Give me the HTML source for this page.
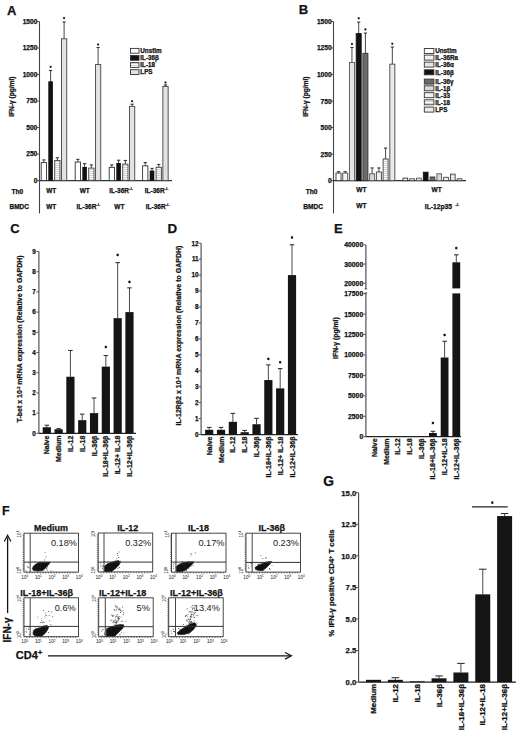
<!DOCTYPE html>
<html><head><meta charset="utf-8"><style>
html,body{margin:0;padding:0;background:#fff;}
svg{display:block;}
text{font-family:"Liberation Sans", sans-serif;}
</style></head><body>
<svg width="520" height="734" viewBox="0 0 520 734">
<defs><pattern id="hs" width="4" height="2" patternUnits="userSpaceOnUse"><rect width="4" height="2" fill="#fbfbfb"/><rect y="1.2" width="4" height="0.8" fill="#c8c8c8"/></pattern></defs>
<rect x="0" y="0" width="520" height="734" fill="#fff"/>
<text x="7.00" y="14.50" font-size="13" text-anchor="start" font-weight="bold" fill="#111" stroke="#111" stroke-width="0.25">A</text>
<line x1="39.50" y1="21.50" x2="39.50" y2="213.50" stroke="#444" stroke-width="1.1"/>
<line x1="39.50" y1="180.60" x2="172.00" y2="180.60" stroke="#333" stroke-width="1.2"/>
<line x1="37.00" y1="180.60" x2="39.50" y2="180.60" stroke="#444" stroke-width="0.9"/>
<text x="37.30" y="183.00" font-size="6.6" text-anchor="end" font-weight="bold" fill="#111" stroke="#111" stroke-width="0.25">0</text>
<line x1="37.00" y1="154.08" x2="39.50" y2="154.08" stroke="#444" stroke-width="0.9"/>
<text x="37.30" y="156.48" font-size="6.6" text-anchor="end" font-weight="bold" fill="#111" stroke="#111" stroke-width="0.25">250</text>
<line x1="37.00" y1="127.57" x2="39.50" y2="127.57" stroke="#444" stroke-width="0.9"/>
<text x="37.30" y="129.97" font-size="6.6" text-anchor="end" font-weight="bold" fill="#111" stroke="#111" stroke-width="0.25">500</text>
<line x1="37.00" y1="101.05" x2="39.50" y2="101.05" stroke="#444" stroke-width="0.9"/>
<text x="37.30" y="103.45" font-size="6.6" text-anchor="end" font-weight="bold" fill="#111" stroke="#111" stroke-width="0.25">750</text>
<line x1="37.00" y1="74.53" x2="39.50" y2="74.53" stroke="#444" stroke-width="0.9"/>
<text x="37.30" y="76.93" font-size="6.6" text-anchor="end" font-weight="bold" fill="#111" stroke="#111" stroke-width="0.25">1000</text>
<line x1="37.00" y1="48.02" x2="39.50" y2="48.02" stroke="#444" stroke-width="0.9"/>
<text x="37.30" y="50.42" font-size="6.6" text-anchor="end" font-weight="bold" fill="#111" stroke="#111" stroke-width="0.25">1250</text>
<line x1="37.00" y1="21.50" x2="39.50" y2="21.50" stroke="#444" stroke-width="0.9"/>
<text x="37.30" y="23.90" font-size="6.6" text-anchor="end" font-weight="bold" fill="#111" stroke="#111" stroke-width="0.25">1500</text>
<text x="13.60" y="96.70" font-size="6.6" text-anchor="middle" font-weight="bold" fill="#111" stroke="#111" stroke-width="0.25" transform="rotate(-90 13.60 96.70)">IFN-&#947; (pg/ml)</text>
<line x1="43.85" y1="162.57" x2="43.85" y2="159.92" stroke="#333" stroke-width="0.9"/>
<line x1="42.25" y1="159.92" x2="45.45" y2="159.92" stroke="#333" stroke-width="1.1"/>
<rect x="41.20" y="162.57" width="5.30" height="18.03" fill="#fff" stroke="#333" stroke-width="0.9"/>
<line x1="50.60" y1="81.75" x2="50.60" y2="70.50" stroke="#333" stroke-width="0.9"/>
<line x1="49.00" y1="70.50" x2="52.20" y2="70.50" stroke="#333" stroke-width="1.1"/>
<rect x="48.30" y="81.30" width="4.60" height="99.30" fill="#111"/>
<path d="M50.60 65.64L50.60 67.95M49.60 66.22L51.60 67.38M49.60 67.38L51.60 66.22" stroke="#111" stroke-width="0.66" fill="none"/>
<circle cx="50.60" cy="66.80" r="0.82" fill="#111"/>
<line x1="57.35" y1="160.45" x2="57.35" y2="157.80" stroke="#333" stroke-width="0.9"/>
<line x1="55.75" y1="157.80" x2="58.95" y2="157.80" stroke="#333" stroke-width="1.1"/>
<rect x="54.70" y="160.45" width="5.30" height="20.15" fill="url(#hs)" stroke="#444" stroke-width="0.9"/>
<line x1="64.10" y1="38.79" x2="64.10" y2="22.03" stroke="#333" stroke-width="0.9"/>
<line x1="62.50" y1="22.03" x2="65.70" y2="22.03" stroke="#333" stroke-width="1.1"/>
<rect x="61.45" y="38.79" width="5.30" height="141.81" fill="#e2e2e2" stroke="#444" stroke-width="0.9"/>
<path d="M64.10 16.84L64.10 19.16M63.10 17.42L65.10 18.58M63.10 18.58L65.10 17.42" stroke="#111" stroke-width="0.66" fill="none"/>
<circle cx="64.10" cy="18.00" r="0.82" fill="#111"/>
<line x1="77.85" y1="162.04" x2="77.85" y2="159.39" stroke="#333" stroke-width="0.9"/>
<line x1="76.25" y1="159.39" x2="79.45" y2="159.39" stroke="#333" stroke-width="1.1"/>
<rect x="75.20" y="162.04" width="5.30" height="18.56" fill="#fff" stroke="#333" stroke-width="0.9"/>
<line x1="84.60" y1="167.34" x2="84.60" y2="163.63" stroke="#333" stroke-width="0.9"/>
<line x1="83.00" y1="163.63" x2="86.20" y2="163.63" stroke="#333" stroke-width="1.1"/>
<rect x="82.30" y="166.89" width="4.60" height="13.71" fill="#111"/>
<line x1="91.35" y1="168.08" x2="91.35" y2="164.90" stroke="#333" stroke-width="0.9"/>
<line x1="89.75" y1="164.90" x2="92.95" y2="164.90" stroke="#333" stroke-width="1.1"/>
<rect x="88.70" y="168.08" width="5.30" height="12.52" fill="url(#hs)" stroke="#444" stroke-width="0.9"/>
<line x1="98.10" y1="64.56" x2="98.10" y2="47.49" stroke="#333" stroke-width="0.9"/>
<line x1="96.50" y1="47.49" x2="99.70" y2="47.49" stroke="#333" stroke-width="1.1"/>
<rect x="95.45" y="64.56" width="5.30" height="116.04" fill="#e2e2e2" stroke="#444" stroke-width="0.9"/>
<path d="M98.10 43.34L98.10 45.66M97.10 43.92L99.10 45.08M97.10 45.08L99.10 43.92" stroke="#111" stroke-width="0.66" fill="none"/>
<circle cx="98.10" cy="44.50" r="0.82" fill="#111"/>
<line x1="111.85" y1="167.34" x2="111.85" y2="164.90" stroke="#333" stroke-width="0.9"/>
<line x1="110.25" y1="164.90" x2="113.45" y2="164.90" stroke="#333" stroke-width="1.1"/>
<rect x="109.20" y="167.34" width="5.30" height="13.26" fill="#fff" stroke="#333" stroke-width="0.9"/>
<line x1="118.60" y1="163.42" x2="118.60" y2="160.24" stroke="#333" stroke-width="0.9"/>
<line x1="117.00" y1="160.24" x2="120.20" y2="160.24" stroke="#333" stroke-width="1.1"/>
<rect x="116.30" y="162.97" width="4.60" height="17.63" fill="#111"/>
<line x1="125.35" y1="164.16" x2="125.35" y2="160.45" stroke="#333" stroke-width="0.9"/>
<line x1="123.75" y1="160.45" x2="126.95" y2="160.45" stroke="#333" stroke-width="1.1"/>
<rect x="122.70" y="164.16" width="5.30" height="16.44" fill="url(#hs)" stroke="#444" stroke-width="0.9"/>
<line x1="132.10" y1="106.35" x2="132.10" y2="104.23" stroke="#333" stroke-width="0.9"/>
<line x1="130.50" y1="104.23" x2="133.70" y2="104.23" stroke="#333" stroke-width="1.1"/>
<rect x="129.45" y="106.35" width="5.30" height="74.25" fill="#e2e2e2" stroke="#444" stroke-width="0.9"/>
<path d="M132.10 100.05L132.10 102.36M131.10 100.62L133.10 101.78M131.10 101.78L133.10 100.62" stroke="#111" stroke-width="0.66" fill="none"/>
<circle cx="132.10" cy="101.20" r="0.82" fill="#111"/>
<line x1="145.25" y1="165.86" x2="145.25" y2="162.57" stroke="#333" stroke-width="0.9"/>
<line x1="143.65" y1="162.57" x2="146.85" y2="162.57" stroke="#333" stroke-width="1.1"/>
<rect x="142.60" y="165.86" width="5.30" height="14.74" fill="#fff" stroke="#333" stroke-width="0.9"/>
<line x1="152.00" y1="171.05" x2="152.00" y2="168.40" stroke="#333" stroke-width="0.9"/>
<line x1="150.40" y1="168.40" x2="153.60" y2="168.40" stroke="#333" stroke-width="1.1"/>
<rect x="149.70" y="170.60" width="4.60" height="10.00" fill="#111"/>
<line x1="158.75" y1="167.24" x2="158.75" y2="164.48" stroke="#333" stroke-width="0.9"/>
<line x1="157.15" y1="164.48" x2="160.35" y2="164.48" stroke="#333" stroke-width="1.1"/>
<rect x="156.10" y="167.24" width="5.30" height="13.36" fill="url(#hs)" stroke="#444" stroke-width="0.9"/>
<line x1="165.50" y1="86.41" x2="165.50" y2="84.93" stroke="#333" stroke-width="0.9"/>
<line x1="163.90" y1="84.93" x2="167.10" y2="84.93" stroke="#333" stroke-width="1.1"/>
<rect x="162.85" y="86.41" width="5.30" height="94.19" fill="#e2e2e2" stroke="#444" stroke-width="0.9"/>
<path d="M165.50 81.34L165.50 83.66M164.50 81.92L166.50 83.08M164.50 83.08L166.50 81.92" stroke="#111" stroke-width="0.66" fill="none"/>
<circle cx="165.50" cy="82.50" r="0.82" fill="#111"/>
<rect x="130.50" y="48.40" width="8.50" height="4.80" fill="#fff" stroke="#333" stroke-width="0.9"/>
<text x="140.30" y="53.10" font-size="6.3" text-anchor="start" font-weight="bold" fill="#111" stroke="#111" stroke-width="0.25">Unstim</text>
<rect x="130.50" y="55.50" width="8.50" height="4.80" fill="#111" stroke="#333" stroke-width="0.9"/>
<text x="140.30" y="60.20" font-size="6.3" text-anchor="start" font-weight="bold" fill="#111" stroke="#111" stroke-width="0.25">IL-36&#946;</text>
<rect x="130.50" y="62.60" width="8.50" height="4.80" fill="url(#hs)" stroke="#333" stroke-width="0.9"/>
<text x="140.30" y="67.30" font-size="6.3" text-anchor="start" font-weight="bold" fill="#111" stroke="#111" stroke-width="0.25">IL-18</text>
<rect x="130.50" y="69.70" width="8.50" height="4.80" fill="#e2e2e2" stroke="#333" stroke-width="0.9"/>
<text x="140.30" y="74.40" font-size="6.3" text-anchor="start" font-weight="bold" fill="#111" stroke="#111" stroke-width="0.25">LPS</text>
<text x="11.50" y="194.40" font-size="6.6" text-anchor="start" font-weight="bold" fill="#111" stroke="#111" stroke-width="0.25">Th0</text>
<text x="9.50" y="208.80" font-size="6.5" text-anchor="start" font-weight="bold" fill="#111" stroke="#111" stroke-width="0.25">BMDC</text>
<text x="51.20" y="192.80" font-size="6.5" text-anchor="middle" font-weight="bold" fill="#111" stroke="#111" stroke-width="0.25">WT</text>
<text x="51.20" y="208.60" font-size="6.5" text-anchor="middle" font-weight="bold" fill="#111" stroke="#111" stroke-width="0.25">WT</text>
<text x="84.80" y="192.80" font-size="6.5" text-anchor="middle" font-weight="bold" fill="#111" stroke="#111" stroke-width="0.25">WT</text>
<text x="88.30" y="208.60" font-size="6.5" text-anchor="middle" font-weight="bold" fill="#111" stroke="#111" stroke-width="0.25">IL-36R<tspan dy="-2.5" font-size="4">-/-</tspan></text>
<text x="121.00" y="192.80" font-size="6.5" text-anchor="middle" font-weight="bold" fill="#111" stroke="#111" stroke-width="0.25">IL-36R<tspan dy="-2.5" font-size="4">-/-</tspan></text>
<text x="119.40" y="208.60" font-size="6.5" text-anchor="middle" font-weight="bold" fill="#111" stroke="#111" stroke-width="0.25">WT</text>
<text x="156.60" y="192.80" font-size="6.5" text-anchor="middle" font-weight="bold" fill="#111" stroke="#111" stroke-width="0.25">IL-36R<tspan dy="-2.5" font-size="4">-/-</tspan></text>
<text x="157.60" y="208.60" font-size="6.5" text-anchor="middle" font-weight="bold" fill="#111" stroke="#111" stroke-width="0.25">IL-36R<tspan dy="-2.5" font-size="4">-/-</tspan></text>
<text x="298.80" y="13.80" font-size="13" text-anchor="start" font-weight="bold" fill="#111" stroke="#111" stroke-width="0.25">B</text>
<line x1="333.50" y1="21.50" x2="333.50" y2="213.50" stroke="#444" stroke-width="1.1"/>
<line x1="333.50" y1="180.70" x2="466.00" y2="180.70" stroke="#333" stroke-width="1.2"/>
<line x1="331.00" y1="180.70" x2="333.50" y2="180.70" stroke="#444" stroke-width="0.9"/>
<text x="331.60" y="183.10" font-size="6.6" text-anchor="end" font-weight="bold" fill="#111" stroke="#111" stroke-width="0.25">0</text>
<line x1="331.00" y1="154.17" x2="333.50" y2="154.17" stroke="#444" stroke-width="0.9"/>
<text x="331.60" y="156.57" font-size="6.6" text-anchor="end" font-weight="bold" fill="#111" stroke="#111" stroke-width="0.25">250</text>
<line x1="331.00" y1="127.63" x2="333.50" y2="127.63" stroke="#444" stroke-width="0.9"/>
<text x="331.60" y="130.03" font-size="6.6" text-anchor="end" font-weight="bold" fill="#111" stroke="#111" stroke-width="0.25">500</text>
<line x1="331.00" y1="101.10" x2="333.50" y2="101.10" stroke="#444" stroke-width="0.9"/>
<text x="331.60" y="103.50" font-size="6.6" text-anchor="end" font-weight="bold" fill="#111" stroke="#111" stroke-width="0.25">750</text>
<line x1="331.00" y1="74.57" x2="333.50" y2="74.57" stroke="#444" stroke-width="0.9"/>
<text x="331.60" y="76.97" font-size="6.6" text-anchor="end" font-weight="bold" fill="#111" stroke="#111" stroke-width="0.25">1000</text>
<line x1="331.00" y1="48.03" x2="333.50" y2="48.03" stroke="#444" stroke-width="0.9"/>
<text x="331.60" y="50.43" font-size="6.6" text-anchor="end" font-weight="bold" fill="#111" stroke="#111" stroke-width="0.25">1250</text>
<line x1="331.00" y1="21.50" x2="333.50" y2="21.50" stroke="#444" stroke-width="0.9"/>
<text x="331.60" y="23.90" font-size="6.6" text-anchor="end" font-weight="bold" fill="#111" stroke="#111" stroke-width="0.25">1500</text>
<text x="308.20" y="96.70" font-size="6.6" text-anchor="middle" font-weight="bold" fill="#111" stroke="#111" stroke-width="0.25" transform="rotate(-90 308.20 96.70)">IFN-&#947; (pg/ml)</text>
<line x1="338.50" y1="173.06" x2="338.50" y2="171.68" stroke="#333" stroke-width="0.9"/>
<line x1="336.90" y1="171.68" x2="340.10" y2="171.68" stroke="#333" stroke-width="1.1"/>
<rect x="336.00" y="173.06" width="5.00" height="7.64" fill="#fff" stroke="#333" stroke-width="0.9"/>
<line x1="345.23" y1="173.06" x2="345.23" y2="171.68" stroke="#333" stroke-width="0.9"/>
<line x1="343.63" y1="171.68" x2="346.83" y2="171.68" stroke="#333" stroke-width="1.1"/>
<rect x="342.73" y="173.06" width="5.00" height="7.64" fill="#f4f4f4" stroke="#444" stroke-width="0.9"/>
<line x1="351.96" y1="62.47" x2="351.96" y2="47.50" stroke="#333" stroke-width="0.9"/>
<line x1="350.36" y1="47.50" x2="353.56" y2="47.50" stroke="#333" stroke-width="1.1"/>
<rect x="349.46" y="62.47" width="5.00" height="118.23" fill="#e4e4e4" stroke="#555" stroke-width="0.9"/>
<path d="M351.96 42.84L351.96 45.16M350.96 43.42L352.96 44.58M350.96 44.58L352.96 43.42" stroke="#111" stroke-width="0.66" fill="none"/>
<circle cx="351.96" cy="44.00" r="0.82" fill="#111"/>
<line x1="358.69" y1="33.60" x2="358.69" y2="22.14" stroke="#333" stroke-width="0.9"/>
<line x1="357.09" y1="22.14" x2="360.29" y2="22.14" stroke="#333" stroke-width="1.1"/>
<rect x="356.19" y="33.60" width="5.00" height="147.10" fill="#111" stroke="#111" stroke-width="0.9"/>
<path d="M358.69 17.14L358.69 19.46M357.69 17.72L359.69 18.88M357.69 18.88L359.69 17.72" stroke="#111" stroke-width="0.66" fill="none"/>
<circle cx="358.69" cy="18.30" r="0.82" fill="#111"/>
<line x1="365.42" y1="53.34" x2="365.42" y2="33.07" stroke="#333" stroke-width="0.9"/>
<line x1="363.82" y1="33.07" x2="367.02" y2="33.07" stroke="#333" stroke-width="1.1"/>
<rect x="362.92" y="53.34" width="5.00" height="127.36" fill="#6a6a6a" stroke="#333" stroke-width="0.9"/>
<path d="M365.42 28.24L365.42 30.55M364.42 28.82L366.42 29.98M364.42 29.98L366.42 28.82" stroke="#111" stroke-width="0.66" fill="none"/>
<circle cx="365.42" cy="29.40" r="0.82" fill="#111"/>
<line x1="372.15" y1="173.80" x2="372.15" y2="167.96" stroke="#333" stroke-width="0.9"/>
<line x1="370.55" y1="167.96" x2="373.75" y2="167.96" stroke="#333" stroke-width="1.1"/>
<rect x="369.65" y="173.80" width="5.00" height="6.90" fill="#d8d8d8" stroke="#555" stroke-width="0.9"/>
<line x1="378.88" y1="172.00" x2="378.88" y2="167.96" stroke="#333" stroke-width="0.9"/>
<line x1="377.28" y1="167.96" x2="380.48" y2="167.96" stroke="#333" stroke-width="1.1"/>
<rect x="376.38" y="172.00" width="5.00" height="8.70" fill="#f2f2f2" stroke="#444" stroke-width="0.9"/>
<line x1="385.61" y1="158.94" x2="385.61" y2="148.12" stroke="#333" stroke-width="0.9"/>
<line x1="384.01" y1="148.12" x2="387.21" y2="148.12" stroke="#333" stroke-width="1.1"/>
<rect x="383.11" y="158.94" width="5.00" height="21.76" fill="url(#hs)" stroke="#444" stroke-width="0.9"/>
<line x1="392.34" y1="64.17" x2="392.34" y2="47.08" stroke="#333" stroke-width="0.9"/>
<line x1="390.74" y1="47.08" x2="393.94" y2="47.08" stroke="#333" stroke-width="1.1"/>
<rect x="389.84" y="64.17" width="5.00" height="116.53" fill="#ebebeb" stroke="#444" stroke-width="0.9"/>
<path d="M392.34 42.55L392.34 44.86M391.34 43.12L393.34 44.28M391.34 44.28L393.34 43.12" stroke="#111" stroke-width="0.66" fill="none"/>
<circle cx="392.34" cy="43.70" r="0.82" fill="#111"/>
<rect x="403.00" y="178.15" width="4.70" height="2.55" fill="#fff" stroke="#333" stroke-width="0.9"/>
<rect x="409.78" y="178.79" width="4.70" height="1.91" fill="#f4f4f4" stroke="#444" stroke-width="0.9"/>
<rect x="416.56" y="178.15" width="4.70" height="2.55" fill="#e4e4e4" stroke="#555" stroke-width="0.9"/>
<rect x="423.34" y="172.21" width="4.70" height="8.49" fill="#111" stroke="#111" stroke-width="0.9"/>
<rect x="430.12" y="176.99" width="4.70" height="3.71" fill="#6a6a6a" stroke="#333" stroke-width="0.9"/>
<rect x="436.90" y="173.80" width="4.70" height="6.90" fill="#d8d8d8" stroke="#555" stroke-width="0.9"/>
<rect x="443.68" y="177.30" width="4.70" height="3.40" fill="#f2f2f2" stroke="#444" stroke-width="0.9"/>
<rect x="450.46" y="174.12" width="4.70" height="6.58" fill="url(#hs)" stroke="#444" stroke-width="0.9"/>
<rect x="457.24" y="178.79" width="4.70" height="1.91" fill="#ebebeb" stroke="#444" stroke-width="0.9"/>
<rect x="424.30" y="48.50" width="9.60" height="5.00" fill="#fff" stroke="#333" stroke-width="0.9"/>
<text x="435.20" y="53.30" font-size="6.3" text-anchor="start" font-weight="bold" fill="#111" stroke="#111" stroke-width="0.25">Unstim</text>
<rect x="424.30" y="55.10" width="9.60" height="5.00" fill="#f4f4f4" stroke="#333" stroke-width="0.9"/>
<text x="435.20" y="59.90" font-size="6.3" text-anchor="start" font-weight="bold" fill="#111" stroke="#111" stroke-width="0.25">IL-36Ra</text>
<rect x="424.30" y="62.10" width="9.60" height="5.00" fill="#e4e4e4" stroke="#333" stroke-width="0.9"/>
<text x="435.20" y="66.90" font-size="6.3" text-anchor="start" font-weight="bold" fill="#111" stroke="#111" stroke-width="0.25">IL-36&#945;</text>
<rect x="424.30" y="69.80" width="9.60" height="5.00" fill="#111" stroke="#333" stroke-width="0.9"/>
<text x="435.20" y="74.60" font-size="6.3" text-anchor="start" font-weight="bold" fill="#111" stroke="#111" stroke-width="0.25">IL-36&#946;</text>
<rect x="424.30" y="79.10" width="9.60" height="5.00" fill="#6a6a6a" stroke="#333" stroke-width="0.9"/>
<text x="435.20" y="83.90" font-size="6.3" text-anchor="start" font-weight="bold" fill="#111" stroke="#111" stroke-width="0.25">IL-36&#947;</text>
<rect x="424.30" y="85.80" width="9.60" height="5.00" fill="#d8d8d8" stroke="#333" stroke-width="0.9"/>
<text x="435.20" y="90.60" font-size="6.3" text-anchor="start" font-weight="bold" fill="#111" stroke="#111" stroke-width="0.25">IL-1&#946;</text>
<rect x="424.30" y="92.70" width="9.60" height="5.00" fill="#f2f2f2" stroke="#333" stroke-width="0.9"/>
<text x="435.20" y="97.50" font-size="6.3" text-anchor="start" font-weight="bold" fill="#111" stroke="#111" stroke-width="0.25">IL-33</text>
<rect x="424.30" y="99.80" width="9.60" height="5.00" fill="url(#hs)" stroke="#333" stroke-width="0.9"/>
<text x="435.20" y="104.60" font-size="6.3" text-anchor="start" font-weight="bold" fill="#111" stroke="#111" stroke-width="0.25">IL-18</text>
<rect x="424.30" y="107.10" width="9.60" height="5.00" fill="#ebebeb" stroke="#333" stroke-width="0.9"/>
<text x="435.20" y="111.90" font-size="6.3" text-anchor="start" font-weight="bold" fill="#111" stroke="#111" stroke-width="0.25">LPS</text>
<text x="305.80" y="194.40" font-size="6.6" text-anchor="start" font-weight="bold" fill="#111" stroke="#111" stroke-width="0.25">Th0</text>
<text x="303.30" y="208.50" font-size="6.6" text-anchor="start" font-weight="bold" fill="#111" stroke="#111" stroke-width="0.25">BMDC</text>
<text x="361.50" y="192.00" font-size="6.6" text-anchor="middle" font-weight="bold" fill="#111" stroke="#111" stroke-width="0.25">WT</text>
<text x="361.50" y="207.90" font-size="6.6" text-anchor="middle" font-weight="bold" fill="#111" stroke="#111" stroke-width="0.25">WT</text>
<text x="436.60" y="192.20" font-size="6.6" text-anchor="middle" font-weight="bold" fill="#111" stroke="#111" stroke-width="0.25">WT</text>
<text x="424.80" y="208.50" font-size="6.7" text-anchor="start" font-weight="bold" fill="#111" stroke="#111" stroke-width="0.25">IL-12p35 <tspan dy="-2.8" dx="1.5" font-size="4.2">-/-</tspan></text>
<text x="10.30" y="233.20" font-size="13" text-anchor="start" font-weight="bold" fill="#111" stroke="#111" stroke-width="0.25">C</text>
<line x1="38.90" y1="251.50" x2="38.90" y2="433.30" stroke="#444" stroke-width="1.1"/>
<line x1="38.90" y1="433.30" x2="136.00" y2="433.30" stroke="#222" stroke-width="1.3"/>
<line x1="36.40" y1="433.30" x2="38.90" y2="433.30" stroke="#444" stroke-width="0.9"/>
<text x="35.70" y="435.60" font-size="6.3" text-anchor="end" font-weight="bold" fill="#111" stroke="#111" stroke-width="0.25">0</text>
<line x1="36.40" y1="413.10" x2="38.90" y2="413.10" stroke="#444" stroke-width="0.9"/>
<text x="35.70" y="415.40" font-size="6.3" text-anchor="end" font-weight="bold" fill="#111" stroke="#111" stroke-width="0.25">1</text>
<line x1="36.40" y1="392.90" x2="38.90" y2="392.90" stroke="#444" stroke-width="0.9"/>
<text x="35.70" y="395.20" font-size="6.3" text-anchor="end" font-weight="bold" fill="#111" stroke="#111" stroke-width="0.25">2</text>
<line x1="36.40" y1="372.70" x2="38.90" y2="372.70" stroke="#444" stroke-width="0.9"/>
<text x="35.70" y="375.00" font-size="6.3" text-anchor="end" font-weight="bold" fill="#111" stroke="#111" stroke-width="0.25">3</text>
<line x1="36.40" y1="352.50" x2="38.90" y2="352.50" stroke="#444" stroke-width="0.9"/>
<text x="35.70" y="354.80" font-size="6.3" text-anchor="end" font-weight="bold" fill="#111" stroke="#111" stroke-width="0.25">4</text>
<line x1="36.40" y1="332.30" x2="38.90" y2="332.30" stroke="#444" stroke-width="0.9"/>
<text x="35.70" y="334.60" font-size="6.3" text-anchor="end" font-weight="bold" fill="#111" stroke="#111" stroke-width="0.25">5</text>
<line x1="36.40" y1="312.10" x2="38.90" y2="312.10" stroke="#444" stroke-width="0.9"/>
<text x="35.70" y="314.40" font-size="6.3" text-anchor="end" font-weight="bold" fill="#111" stroke="#111" stroke-width="0.25">6</text>
<line x1="36.40" y1="291.90" x2="38.90" y2="291.90" stroke="#444" stroke-width="0.9"/>
<text x="35.70" y="294.20" font-size="6.3" text-anchor="end" font-weight="bold" fill="#111" stroke="#111" stroke-width="0.25">7</text>
<line x1="36.40" y1="271.70" x2="38.90" y2="271.70" stroke="#444" stroke-width="0.9"/>
<text x="35.70" y="274.00" font-size="6.3" text-anchor="end" font-weight="bold" fill="#111" stroke="#111" stroke-width="0.25">8</text>
<line x1="36.40" y1="251.50" x2="38.90" y2="251.50" stroke="#444" stroke-width="0.9"/>
<text x="35.70" y="253.80" font-size="6.3" text-anchor="end" font-weight="bold" fill="#111" stroke="#111" stroke-width="0.25">9</text>
<line x1="46.80" y1="427.24" x2="46.80" y2="425.22" stroke="#333" stroke-width="0.9"/>
<line x1="44.55" y1="425.22" x2="49.06" y2="425.22" stroke="#333" stroke-width="1.1"/>
<rect x="42.70" y="427.24" width="8.20" height="6.06" fill="#151515"/>
<line x1="58.61" y1="429.26" x2="58.61" y2="428.65" stroke="#333" stroke-width="0.9"/>
<line x1="56.36" y1="428.65" x2="60.87" y2="428.65" stroke="#333" stroke-width="1.1"/>
<rect x="54.51" y="429.26" width="8.20" height="4.04" fill="#151515"/>
<line x1="70.42" y1="376.74" x2="70.42" y2="350.48" stroke="#333" stroke-width="0.9"/>
<line x1="68.17" y1="350.48" x2="72.67" y2="350.48" stroke="#333" stroke-width="1.1"/>
<rect x="66.32" y="376.74" width="8.20" height="56.56" fill="#151515"/>
<line x1="82.23" y1="420.17" x2="82.23" y2="414.11" stroke="#333" stroke-width="0.9"/>
<line x1="79.97" y1="414.11" x2="84.48" y2="414.11" stroke="#333" stroke-width="1.1"/>
<rect x="78.13" y="420.17" width="8.20" height="13.13" fill="#151515"/>
<line x1="94.04" y1="413.10" x2="94.04" y2="397.95" stroke="#333" stroke-width="0.9"/>
<line x1="91.78" y1="397.95" x2="96.29" y2="397.95" stroke="#333" stroke-width="1.1"/>
<rect x="89.94" y="413.10" width="8.20" height="20.20" fill="#151515"/>
<line x1="105.85" y1="366.64" x2="105.85" y2="355.53" stroke="#333" stroke-width="0.9"/>
<line x1="103.59" y1="355.53" x2="108.10" y2="355.53" stroke="#333" stroke-width="1.1"/>
<rect x="101.75" y="366.64" width="8.20" height="66.66" fill="#151515"/>
<path d="M105.85 345.63L105.85 348.37M104.67 346.32L107.03 347.68M104.67 347.68L107.03 346.32" stroke="#111" stroke-width="0.78" fill="none"/>
<circle cx="105.85" cy="347.00" r="0.97" fill="#111"/>
<line x1="117.66" y1="318.16" x2="117.66" y2="262.61" stroke="#333" stroke-width="0.9"/>
<line x1="115.41" y1="262.61" x2="119.91" y2="262.61" stroke="#333" stroke-width="1.1"/>
<rect x="113.56" y="318.16" width="8.20" height="115.14" fill="#151515"/>
<path d="M117.66 253.53L117.66 256.26M116.48 254.22L118.84 255.58M116.48 255.58L118.84 254.22" stroke="#111" stroke-width="0.78" fill="none"/>
<circle cx="117.66" cy="254.90" r="0.97" fill="#111"/>
<line x1="129.47" y1="312.10" x2="129.47" y2="287.86" stroke="#333" stroke-width="0.9"/>
<line x1="127.22" y1="287.86" x2="131.72" y2="287.86" stroke="#333" stroke-width="1.1"/>
<rect x="125.37" y="312.10" width="8.20" height="121.20" fill="#151515"/>
<path d="M129.47 280.53L129.47 283.26M128.29 281.22L130.65 282.58M128.29 282.58L130.65 281.22" stroke="#111" stroke-width="0.78" fill="none"/>
<circle cx="129.47" cy="281.90" r="0.97" fill="#111"/>
<text x="49.32" y="435.60" font-size="7.0" text-anchor="end" font-weight="bold" fill="#111" stroke="#111" stroke-width="0.25" transform="rotate(-90 49.32 435.60)">Naive</text>
<text x="61.13" y="435.60" font-size="7.0" text-anchor="end" font-weight="bold" fill="#111" stroke="#111" stroke-width="0.25" transform="rotate(-90 61.13 435.60)">Medium</text>
<text x="72.94" y="435.60" font-size="7.0" text-anchor="end" font-weight="bold" fill="#111" stroke="#111" stroke-width="0.25" transform="rotate(-90 72.94 435.60)">IL-12</text>
<text x="84.75" y="435.60" font-size="7.0" text-anchor="end" font-weight="bold" fill="#111" stroke="#111" stroke-width="0.25" transform="rotate(-90 84.75 435.60)">IL-18</text>
<text x="96.56" y="435.60" font-size="7.0" text-anchor="end" font-weight="bold" fill="#111" stroke="#111" stroke-width="0.25" transform="rotate(-90 96.56 435.60)">IL-36&#946;</text>
<text x="108.37" y="435.60" font-size="7.0" text-anchor="end" font-weight="bold" fill="#111" stroke="#111" stroke-width="0.25" transform="rotate(-90 108.37 435.60)">IL-18+IL-36&#946;</text>
<text x="120.18" y="435.60" font-size="7.0" text-anchor="end" font-weight="bold" fill="#111" stroke="#111" stroke-width="0.25" transform="rotate(-90 120.18 435.60)">IL-12+ IL-18</text>
<text x="131.99" y="435.60" font-size="7.0" text-anchor="end" font-weight="bold" fill="#111" stroke="#111" stroke-width="0.25" transform="rotate(-90 131.99 435.60)">IL-12+IL-36&#946;</text>
<text x="21.80" y="338.90" font-size="7.0" text-anchor="middle" font-weight="bold" fill="#111" stroke="#111" stroke-width="0.25" transform="rotate(-90 21.80 338.90)">T-bet x 10<tspan dy="-2" font-size="4">-2</tspan><tspan dy="2"> mRNA expression (Relative to GAPDH)</tspan></text>
<text x="167.60" y="233.10" font-size="13.3" text-anchor="start" font-weight="bold" fill="#111" stroke="#111" stroke-width="0.25">D</text>
<line x1="201.10" y1="243.20" x2="201.10" y2="434.60" stroke="#444" stroke-width="1.1"/>
<line x1="201.10" y1="434.60" x2="298.00" y2="434.60" stroke="#222" stroke-width="1.3"/>
<line x1="198.60" y1="434.60" x2="201.10" y2="434.60" stroke="#444" stroke-width="0.9"/>
<text x="198.60" y="436.90" font-size="6.3" text-anchor="end" font-weight="bold" fill="#111" stroke="#111" stroke-width="0.25">0</text>
<line x1="198.60" y1="418.65" x2="201.10" y2="418.65" stroke="#444" stroke-width="0.9"/>
<text x="198.60" y="420.95" font-size="6.3" text-anchor="end" font-weight="bold" fill="#111" stroke="#111" stroke-width="0.25">1</text>
<line x1="198.60" y1="402.70" x2="201.10" y2="402.70" stroke="#444" stroke-width="0.9"/>
<text x="198.60" y="405.00" font-size="6.3" text-anchor="end" font-weight="bold" fill="#111" stroke="#111" stroke-width="0.25">2</text>
<line x1="198.60" y1="386.75" x2="201.10" y2="386.75" stroke="#444" stroke-width="0.9"/>
<text x="198.60" y="389.05" font-size="6.3" text-anchor="end" font-weight="bold" fill="#111" stroke="#111" stroke-width="0.25">3</text>
<line x1="198.60" y1="370.80" x2="201.10" y2="370.80" stroke="#444" stroke-width="0.9"/>
<text x="198.60" y="373.10" font-size="6.3" text-anchor="end" font-weight="bold" fill="#111" stroke="#111" stroke-width="0.25">4</text>
<line x1="198.60" y1="354.85" x2="201.10" y2="354.85" stroke="#444" stroke-width="0.9"/>
<text x="198.60" y="357.15" font-size="6.3" text-anchor="end" font-weight="bold" fill="#111" stroke="#111" stroke-width="0.25">5</text>
<line x1="198.60" y1="338.90" x2="201.10" y2="338.90" stroke="#444" stroke-width="0.9"/>
<text x="198.60" y="341.20" font-size="6.3" text-anchor="end" font-weight="bold" fill="#111" stroke="#111" stroke-width="0.25">6</text>
<line x1="198.60" y1="322.95" x2="201.10" y2="322.95" stroke="#444" stroke-width="0.9"/>
<text x="198.60" y="325.25" font-size="6.3" text-anchor="end" font-weight="bold" fill="#111" stroke="#111" stroke-width="0.25">7</text>
<line x1="198.60" y1="307.00" x2="201.10" y2="307.00" stroke="#444" stroke-width="0.9"/>
<text x="198.60" y="309.30" font-size="6.3" text-anchor="end" font-weight="bold" fill="#111" stroke="#111" stroke-width="0.25">8</text>
<line x1="198.60" y1="291.05" x2="201.10" y2="291.05" stroke="#444" stroke-width="0.9"/>
<text x="198.60" y="293.35" font-size="6.3" text-anchor="end" font-weight="bold" fill="#111" stroke="#111" stroke-width="0.25">9</text>
<line x1="198.60" y1="275.10" x2="201.10" y2="275.10" stroke="#444" stroke-width="0.9"/>
<text x="198.60" y="277.40" font-size="6.3" text-anchor="end" font-weight="bold" fill="#111" stroke="#111" stroke-width="0.25">10</text>
<line x1="198.60" y1="259.15" x2="201.10" y2="259.15" stroke="#444" stroke-width="0.9"/>
<text x="198.60" y="261.45" font-size="6.3" text-anchor="end" font-weight="bold" fill="#111" stroke="#111" stroke-width="0.25">11</text>
<line x1="198.60" y1="243.20" x2="201.10" y2="243.20" stroke="#444" stroke-width="0.9"/>
<text x="198.60" y="245.50" font-size="6.3" text-anchor="end" font-weight="bold" fill="#111" stroke="#111" stroke-width="0.25">12</text>
<line x1="209.20" y1="429.81" x2="209.20" y2="427.42" stroke="#333" stroke-width="0.9"/>
<line x1="206.94" y1="427.42" x2="211.45" y2="427.42" stroke="#333" stroke-width="1.1"/>
<rect x="205.10" y="429.81" width="8.20" height="4.79" fill="#151515"/>
<line x1="221.03" y1="429.81" x2="221.03" y2="427.42" stroke="#333" stroke-width="0.9"/>
<line x1="218.78" y1="427.42" x2="223.28" y2="427.42" stroke="#333" stroke-width="1.1"/>
<rect x="216.93" y="429.81" width="8.20" height="4.79" fill="#151515"/>
<line x1="232.86" y1="421.84" x2="232.86" y2="413.39" stroke="#333" stroke-width="0.9"/>
<line x1="230.60" y1="413.39" x2="235.11" y2="413.39" stroke="#333" stroke-width="1.1"/>
<rect x="228.76" y="421.84" width="8.20" height="12.76" fill="#151515"/>
<line x1="244.69" y1="432.21" x2="244.69" y2="430.45" stroke="#333" stroke-width="0.9"/>
<line x1="242.44" y1="430.45" x2="246.94" y2="430.45" stroke="#333" stroke-width="1.1"/>
<rect x="240.59" y="432.21" width="8.20" height="2.39" fill="#151515"/>
<line x1="256.52" y1="424.23" x2="256.52" y2="418.33" stroke="#333" stroke-width="0.9"/>
<line x1="254.26" y1="418.33" x2="258.77" y2="418.33" stroke="#333" stroke-width="1.1"/>
<rect x="252.42" y="424.23" width="8.20" height="10.37" fill="#151515"/>
<line x1="268.35" y1="380.05" x2="268.35" y2="364.90" stroke="#333" stroke-width="0.9"/>
<line x1="266.10" y1="364.90" x2="270.61" y2="364.90" stroke="#333" stroke-width="1.1"/>
<rect x="264.25" y="380.05" width="8.20" height="54.55" fill="#151515"/>
<path d="M268.35 357.53L268.35 360.26M267.17 358.22L269.53 359.58M267.17 359.58L269.53 358.22" stroke="#111" stroke-width="0.78" fill="none"/>
<circle cx="268.35" cy="358.90" r="0.97" fill="#111"/>
<line x1="280.18" y1="388.35" x2="280.18" y2="368.57" stroke="#333" stroke-width="0.9"/>
<line x1="277.93" y1="368.57" x2="282.44" y2="368.57" stroke="#333" stroke-width="1.1"/>
<rect x="276.08" y="388.35" width="8.20" height="46.26" fill="#151515"/>
<path d="M280.18 360.94L280.18 363.67M279.00 361.62L281.36 362.98M279.00 362.98L281.36 361.62" stroke="#111" stroke-width="0.78" fill="none"/>
<circle cx="280.18" cy="362.30" r="0.97" fill="#111"/>
<line x1="292.01" y1="275.10" x2="292.01" y2="244.79" stroke="#333" stroke-width="0.9"/>
<line x1="289.75" y1="244.79" x2="294.26" y2="244.79" stroke="#333" stroke-width="1.1"/>
<rect x="287.91" y="275.10" width="8.20" height="159.50" fill="#151515"/>
<path d="M292.01 236.13L292.01 238.87M290.83 236.82L293.19 238.18M290.83 238.18L293.19 236.82" stroke="#111" stroke-width="0.78" fill="none"/>
<circle cx="292.01" cy="237.50" r="0.97" fill="#111"/>
<text x="211.72" y="436.50" font-size="7.0" text-anchor="end" font-weight="bold" fill="#111" stroke="#111" stroke-width="0.25" transform="rotate(-90 211.72 436.50)">Naive</text>
<text x="223.55" y="436.50" font-size="7.0" text-anchor="end" font-weight="bold" fill="#111" stroke="#111" stroke-width="0.25" transform="rotate(-90 223.55 436.50)">Medium</text>
<text x="235.38" y="436.50" font-size="7.0" text-anchor="end" font-weight="bold" fill="#111" stroke="#111" stroke-width="0.25" transform="rotate(-90 235.38 436.50)">IL-12</text>
<text x="247.21" y="436.50" font-size="7.0" text-anchor="end" font-weight="bold" fill="#111" stroke="#111" stroke-width="0.25" transform="rotate(-90 247.21 436.50)">IL-18</text>
<text x="259.04" y="436.50" font-size="7.0" text-anchor="end" font-weight="bold" fill="#111" stroke="#111" stroke-width="0.25" transform="rotate(-90 259.04 436.50)">IL-36&#946;</text>
<text x="270.87" y="436.50" font-size="7.0" text-anchor="end" font-weight="bold" fill="#111" stroke="#111" stroke-width="0.25" transform="rotate(-90 270.87 436.50)">IL-18+IL-36&#946;</text>
<text x="282.70" y="436.50" font-size="7.0" text-anchor="end" font-weight="bold" fill="#111" stroke="#111" stroke-width="0.25" transform="rotate(-90 282.70 436.50)">IL-12+ IL-18</text>
<text x="294.53" y="436.50" font-size="7.0" text-anchor="end" font-weight="bold" fill="#111" stroke="#111" stroke-width="0.25" transform="rotate(-90 294.53 436.50)">IL-12+IL-36&#946;</text>
<text x="180.70" y="335.60" font-size="7.0" text-anchor="middle" font-weight="bold" fill="#111" stroke="#111" stroke-width="0.25" transform="rotate(-90 180.70 335.60)">IL-12R&#946;2 x 10<tspan dy="-2" font-size="4">-2</tspan><tspan dy="2"> mRNA expression (Relative to GAPDH)</tspan></text>
<text x="334.00" y="233.20" font-size="13" text-anchor="start" font-weight="bold" fill="#111" stroke="#111" stroke-width="0.25">E</text>
<line x1="365.90" y1="293.00" x2="365.90" y2="436.70" stroke="#444" stroke-width="1.1"/>
<line x1="365.90" y1="244.90" x2="365.90" y2="288.90" stroke="#444" stroke-width="1.1"/>
<line x1="364.70" y1="288.90" x2="367.10" y2="288.90" stroke="#444" stroke-width="1"/>
<line x1="364.70" y1="293.00" x2="367.10" y2="293.00" stroke="#444" stroke-width="1"/>
<line x1="365.90" y1="436.70" x2="461.00" y2="436.70" stroke="#222" stroke-width="1.3"/>
<line x1="363.40" y1="436.70" x2="365.90" y2="436.70" stroke="#444" stroke-width="0.9"/>
<text x="363.20" y="439.10" font-size="6.8" text-anchor="end" font-weight="bold" fill="#111" stroke="#111" stroke-width="0.25">0</text>
<line x1="363.40" y1="416.27" x2="365.90" y2="416.27" stroke="#444" stroke-width="0.9"/>
<text x="363.20" y="418.67" font-size="6.8" text-anchor="end" font-weight="bold" fill="#111" stroke="#111" stroke-width="0.25">2500</text>
<line x1="363.40" y1="395.84" x2="365.90" y2="395.84" stroke="#444" stroke-width="0.9"/>
<text x="363.20" y="398.24" font-size="6.8" text-anchor="end" font-weight="bold" fill="#111" stroke="#111" stroke-width="0.25">5000</text>
<line x1="363.40" y1="375.41" x2="365.90" y2="375.41" stroke="#444" stroke-width="0.9"/>
<text x="363.20" y="377.81" font-size="6.8" text-anchor="end" font-weight="bold" fill="#111" stroke="#111" stroke-width="0.25">7500</text>
<line x1="363.40" y1="354.99" x2="365.90" y2="354.99" stroke="#444" stroke-width="0.9"/>
<text x="363.20" y="357.39" font-size="6.8" text-anchor="end" font-weight="bold" fill="#111" stroke="#111" stroke-width="0.25">10000</text>
<line x1="363.40" y1="334.56" x2="365.90" y2="334.56" stroke="#444" stroke-width="0.9"/>
<text x="363.20" y="336.96" font-size="6.8" text-anchor="end" font-weight="bold" fill="#111" stroke="#111" stroke-width="0.25">12500</text>
<line x1="363.40" y1="314.13" x2="365.90" y2="314.13" stroke="#444" stroke-width="0.9"/>
<text x="363.20" y="316.53" font-size="6.8" text-anchor="end" font-weight="bold" fill="#111" stroke="#111" stroke-width="0.25">15000</text>
<line x1="363.40" y1="293.70" x2="365.90" y2="293.70" stroke="#444" stroke-width="0.9"/>
<text x="363.20" y="296.10" font-size="6.8" text-anchor="end" font-weight="bold" fill="#111" stroke="#111" stroke-width="0.25">17500</text>
<line x1="363.40" y1="244.90" x2="365.90" y2="244.90" stroke="#444" stroke-width="0.9"/>
<text x="363.20" y="247.30" font-size="6.8" text-anchor="end" font-weight="bold" fill="#111" stroke="#111" stroke-width="0.25">40000</text>
<line x1="363.40" y1="264.10" x2="365.90" y2="264.10" stroke="#444" stroke-width="0.9"/>
<text x="363.20" y="266.50" font-size="6.8" text-anchor="end" font-weight="bold" fill="#111" stroke="#111" stroke-width="0.25">30000</text>
<line x1="363.40" y1="283.30" x2="365.90" y2="283.30" stroke="#444" stroke-width="0.9"/>
<text x="363.20" y="285.70" font-size="6.8" text-anchor="end" font-weight="bold" fill="#111" stroke="#111" stroke-width="0.25">20000</text>
<text x="338.00" y="338.10" font-size="6.8" text-anchor="middle" font-weight="bold" fill="#111" stroke="#111" stroke-width="0.25" transform="rotate(-90 338.00 338.10)">IFN-&#947; (pg/ml)</text>
<line x1="432.90" y1="433.00" x2="432.90" y2="431.30" stroke="#333" stroke-width="0.9"/>
<line x1="430.65" y1="431.30" x2="435.15" y2="431.30" stroke="#333" stroke-width="1.1"/>
<rect x="429.00" y="433.00" width="7.80" height="3.70" fill="#151515"/>
<path d="M432.90 421.63L432.90 424.37M431.72 422.32L434.08 423.68M431.72 423.68L434.08 422.32" stroke="#111" stroke-width="0.78" fill="none"/>
<circle cx="432.90" cy="423.00" r="0.97" fill="#111"/>
<line x1="444.60" y1="357.50" x2="444.60" y2="341.30" stroke="#333" stroke-width="0.9"/>
<line x1="442.35" y1="341.30" x2="446.85" y2="341.30" stroke="#333" stroke-width="1.1"/>
<rect x="440.70" y="357.50" width="7.80" height="79.20" fill="#151515"/>
<path d="M444.60 333.63L444.60 336.37M443.42 334.32L445.78 335.68M443.42 335.68L445.78 334.32" stroke="#111" stroke-width="0.78" fill="none"/>
<circle cx="444.60" cy="335.00" r="0.97" fill="#111"/>
<rect x="452.40" y="293.40" width="7.80" height="143.30" fill="#151515"/>
<rect x="452.40" y="262.30" width="7.80" height="26.10" fill="#151515"/>
<line x1="456.30" y1="262.30" x2="456.30" y2="254.80" stroke="#333" stroke-width="0.9"/>
<line x1="454.05" y1="254.80" x2="458.55" y2="254.80" stroke="#333" stroke-width="1.1"/>
<path d="M456.30 246.73L456.30 249.47M455.12 247.42L457.48 248.78M455.12 248.78L457.48 247.42" stroke="#111" stroke-width="0.78" fill="none"/>
<circle cx="456.30" cy="248.10" r="0.97" fill="#111"/>
<text x="376.85" y="438.40" font-size="7.0" text-anchor="end" font-weight="bold" fill="#111" stroke="#111" stroke-width="0.25" transform="rotate(-90 376.85 438.40)">Naive</text>
<text x="388.55" y="438.40" font-size="7.0" text-anchor="end" font-weight="bold" fill="#111" stroke="#111" stroke-width="0.25" transform="rotate(-90 388.55 438.40)">Medium</text>
<text x="400.25" y="438.40" font-size="7.0" text-anchor="end" font-weight="bold" fill="#111" stroke="#111" stroke-width="0.25" transform="rotate(-90 400.25 438.40)">IL-12</text>
<text x="411.95" y="438.40" font-size="7.0" text-anchor="end" font-weight="bold" fill="#111" stroke="#111" stroke-width="0.25" transform="rotate(-90 411.95 438.40)">IL-18</text>
<text x="423.65" y="438.40" font-size="7.0" text-anchor="end" font-weight="bold" fill="#111" stroke="#111" stroke-width="0.25" transform="rotate(-90 423.65 438.40)">IL-36&#946;</text>
<text x="435.35" y="438.40" font-size="7.0" text-anchor="end" font-weight="bold" fill="#111" stroke="#111" stroke-width="0.25" transform="rotate(-90 435.35 438.40)">IL-18+IL-36&#946;</text>
<text x="447.05" y="438.40" font-size="7.0" text-anchor="end" font-weight="bold" fill="#111" stroke="#111" stroke-width="0.25" transform="rotate(-90 447.05 438.40)">IL-12+IL-18</text>
<text x="458.75" y="438.40" font-size="7.0" text-anchor="end" font-weight="bold" fill="#111" stroke="#111" stroke-width="0.25" transform="rotate(-90 458.75 438.40)">IL-12+IL-36&#946;</text>
<text x="2.00" y="514.60" font-size="12.5" text-anchor="start" font-weight="bold" fill="#111" stroke="#111" stroke-width="0.25">F</text>
<text x="51.00" y="531.00" font-size="9.0" text-anchor="middle" font-weight="bold" fill="#111" stroke="#111" stroke-width="0.25">Medium</text>
<rect x="24.00" y="533.20" width="54.50" height="38.90" fill="#fff" stroke="#333" stroke-width="0.9"/>
<polygon points="32.3,568.8 33.5,566 36,564 39.3,562.2 50.2,562.2 49.5,563.5 46,567.5 43,570.5 38,571 33.5,570.6" fill="#111" stroke="#111" stroke-width="0.6" stroke-linejoin="round"/>
<path d="M34.8 568.9h.8v.8h-.8zM40.1 564.7h.8v.8h-.8zM34.5 561.5h.8v.8h-.8zM44.4 562.8h.8v.8h-.8zM36.6 570.4h.8v.8h-.8zM33.7 566.6h.8v.8h-.8zM36.9 566.0h.8v.8h-.8zM40.2 567.3h.8v.8h-.8zM36.2 566.4h.8v.8h-.8zM46.9 566.6h.8v.8h-.8zM50.7 570.4h.8v.8h-.8zM46.2 568.1h.8v.8h-.8zM46.7 569.4h.8v.8h-.8zM46.8 569.6h.8v.8h-.8zM27.3 566.5h.8v.8h-.8zM28.8 566.4h.8v.8h-.8zM27.2 566.7h.8v.8h-.8zM25.6 570.3h.8v.8h-.8zM28.5 562.7h.8v.8h-.8zM28.0 567.5h.8v.8h-.8z" fill="#333"/>
<path d="M44.1 559.5h.9v.9h-.9zM45.5 556.5h.9v.9h-.9zM44.6 552.2h.9v.9h-.9z" fill="#555"/>
<line x1="30.20" y1="533.20" x2="30.20" y2="572.10" stroke="#444" stroke-width="1.0"/>
<line x1="24.00" y1="562.10" x2="78.50" y2="562.10" stroke="#333" stroke-width="1.0"/>
<line x1="22.60" y1="570.15" x2="24.00" y2="570.15" stroke="#333" stroke-width="0.6"/>
<line x1="22.60" y1="568.21" x2="24.00" y2="568.21" stroke="#333" stroke-width="0.6"/>
<line x1="22.60" y1="566.26" x2="24.00" y2="566.26" stroke="#333" stroke-width="0.6"/>
<line x1="22.60" y1="564.32" x2="24.00" y2="564.32" stroke="#333" stroke-width="0.6"/>
<line x1="22.60" y1="562.38" x2="24.00" y2="562.38" stroke="#333" stroke-width="0.6"/>
<line x1="22.60" y1="560.43" x2="24.00" y2="560.43" stroke="#333" stroke-width="0.6"/>
<line x1="22.60" y1="558.49" x2="24.00" y2="558.49" stroke="#333" stroke-width="0.6"/>
<line x1="22.60" y1="556.54" x2="24.00" y2="556.54" stroke="#333" stroke-width="0.6"/>
<line x1="22.60" y1="554.60" x2="24.00" y2="554.60" stroke="#333" stroke-width="0.6"/>
<line x1="22.60" y1="552.65" x2="24.00" y2="552.65" stroke="#333" stroke-width="0.6"/>
<line x1="22.60" y1="550.71" x2="24.00" y2="550.71" stroke="#333" stroke-width="0.6"/>
<line x1="22.60" y1="548.76" x2="24.00" y2="548.76" stroke="#333" stroke-width="0.6"/>
<line x1="22.60" y1="546.82" x2="24.00" y2="546.82" stroke="#333" stroke-width="0.6"/>
<line x1="22.60" y1="544.87" x2="24.00" y2="544.87" stroke="#333" stroke-width="0.6"/>
<line x1="22.60" y1="542.93" x2="24.00" y2="542.93" stroke="#333" stroke-width="0.6"/>
<line x1="22.60" y1="540.98" x2="24.00" y2="540.98" stroke="#333" stroke-width="0.6"/>
<line x1="22.60" y1="539.04" x2="24.00" y2="539.04" stroke="#333" stroke-width="0.6"/>
<line x1="22.60" y1="537.09" x2="24.00" y2="537.09" stroke="#333" stroke-width="0.6"/>
<line x1="22.60" y1="535.14" x2="24.00" y2="535.14" stroke="#333" stroke-width="0.6"/>
<line x1="26.73" y1="572.10" x2="26.73" y2="573.50" stroke="#333" stroke-width="0.6"/>
<line x1="29.45" y1="572.10" x2="29.45" y2="573.50" stroke="#333" stroke-width="0.6"/>
<line x1="32.17" y1="572.10" x2="32.17" y2="573.50" stroke="#333" stroke-width="0.6"/>
<line x1="34.90" y1="572.10" x2="34.90" y2="573.50" stroke="#333" stroke-width="0.6"/>
<line x1="37.62" y1="572.10" x2="37.62" y2="573.50" stroke="#333" stroke-width="0.6"/>
<line x1="40.35" y1="572.10" x2="40.35" y2="573.50" stroke="#333" stroke-width="0.6"/>
<line x1="43.08" y1="572.10" x2="43.08" y2="573.50" stroke="#333" stroke-width="0.6"/>
<line x1="45.80" y1="572.10" x2="45.80" y2="573.50" stroke="#333" stroke-width="0.6"/>
<line x1="48.52" y1="572.10" x2="48.52" y2="573.50" stroke="#333" stroke-width="0.6"/>
<line x1="51.25" y1="572.10" x2="51.25" y2="573.50" stroke="#333" stroke-width="0.6"/>
<line x1="53.98" y1="572.10" x2="53.98" y2="573.50" stroke="#333" stroke-width="0.6"/>
<line x1="56.70" y1="572.10" x2="56.70" y2="573.50" stroke="#333" stroke-width="0.6"/>
<line x1="59.42" y1="572.10" x2="59.42" y2="573.50" stroke="#333" stroke-width="0.6"/>
<line x1="62.15" y1="572.10" x2="62.15" y2="573.50" stroke="#333" stroke-width="0.6"/>
<line x1="64.88" y1="572.10" x2="64.88" y2="573.50" stroke="#333" stroke-width="0.6"/>
<line x1="67.60" y1="572.10" x2="67.60" y2="573.50" stroke="#333" stroke-width="0.6"/>
<line x1="70.33" y1="572.10" x2="70.33" y2="573.50" stroke="#333" stroke-width="0.6"/>
<line x1="73.05" y1="572.10" x2="73.05" y2="573.50" stroke="#333" stroke-width="0.6"/>
<line x1="75.78" y1="572.10" x2="75.78" y2="573.50" stroke="#333" stroke-width="0.6"/>
<text x="24.80" y="578.70" font-size="4.6" text-anchor="middle" font-weight="normal" fill="#111">10<tspan dy="-1.6" font-size="3.2">0</tspan></text>
<text x="38.42" y="578.70" font-size="4.6" text-anchor="middle" font-weight="normal" fill="#111">10<tspan dy="-1.6" font-size="3.2">1</tspan></text>
<text x="52.05" y="578.70" font-size="4.6" text-anchor="middle" font-weight="normal" fill="#111">10<tspan dy="-1.6" font-size="3.2">2</tspan></text>
<text x="65.67" y="578.70" font-size="4.6" text-anchor="middle" font-weight="normal" fill="#111">10<tspan dy="-1.6" font-size="3.2">3</tspan></text>
<text x="79.30" y="578.70" font-size="4.6" text-anchor="middle" font-weight="normal" fill="#111">10<tspan dy="-1.6" font-size="3.2">4</tspan></text>
<text x="21.00" y="534.00" font-size="4.6" text-anchor="middle" font-weight="normal" fill="#111" transform="rotate(-90 21.00 534.00)">10<tspan dy="-1.6" font-size="3.2">4</tspan></text>
<text x="21.00" y="570.30" font-size="4.6" text-anchor="middle" font-weight="normal" fill="#111" transform="rotate(-90 21.00 570.30)">10<tspan dy="-1.6" font-size="3.2">0</tspan></text>
<text x="77.00" y="545.90" font-size="9.2" text-anchor="end" font-weight="normal" fill="#222">0.18%</text>
<text x="127.70" y="530.80" font-size="9.0" text-anchor="middle" font-weight="bold" fill="#111" stroke="#111" stroke-width="0.25">IL-12</text>
<rect x="98.20" y="533.00" width="54.50" height="38.90" fill="#fff" stroke="#333" stroke-width="0.9"/>
<polygon points="104.2,566.5 107,564 111,562.5 115.5,561 118.5,560.6 120.5,562 119,565 115,569 111.5,571.6 104.5,571.6" fill="#111" stroke="#111" stroke-width="0.6" stroke-linejoin="round"/>
<path d="M117.4 567.9h.8v.8h-.8zM113.6 567.0h.8v.8h-.8zM110.7 561.7h.8v.8h-.8zM118.9 566.9h.8v.8h-.8zM103.9 561.1h.8v.8h-.8zM109.1 570.2h.8v.8h-.8zM107.8 561.3h.8v.8h-.8zM118.6 567.2h.8v.8h-.8zM119.9 560.8h.8v.8h-.8zM109.5 566.6h.8v.8h-.8zM102.4 566.4h.8v.8h-.8zM101.7 565.2h.8v.8h-.8zM101.9 567.9h.8v.8h-.8zM100.5 566.3h.8v.8h-.8zM103.2 565.4h.8v.8h-.8zM100.0 563.8h.8v.8h-.8z" fill="#333"/>
<path d="M116.9 553.1h.9v.9h-.9zM118.5 551.6h.9v.9h-.9zM116.2 558.4h.9v.9h-.9zM118.2 557.0h.9v.9h-.9zM117.4 554.8h.9v.9h-.9z" fill="#555"/>
<line x1="104.00" y1="533.00" x2="104.00" y2="571.90" stroke="#444" stroke-width="1.0"/>
<line x1="98.20" y1="562.10" x2="152.70" y2="562.10" stroke="#333" stroke-width="1.0"/>
<line x1="96.80" y1="569.95" x2="98.20" y2="569.95" stroke="#333" stroke-width="0.6"/>
<line x1="96.80" y1="568.01" x2="98.20" y2="568.01" stroke="#333" stroke-width="0.6"/>
<line x1="96.80" y1="566.06" x2="98.20" y2="566.06" stroke="#333" stroke-width="0.6"/>
<line x1="96.80" y1="564.12" x2="98.20" y2="564.12" stroke="#333" stroke-width="0.6"/>
<line x1="96.80" y1="562.17" x2="98.20" y2="562.17" stroke="#333" stroke-width="0.6"/>
<line x1="96.80" y1="560.23" x2="98.20" y2="560.23" stroke="#333" stroke-width="0.6"/>
<line x1="96.80" y1="558.28" x2="98.20" y2="558.28" stroke="#333" stroke-width="0.6"/>
<line x1="96.80" y1="556.34" x2="98.20" y2="556.34" stroke="#333" stroke-width="0.6"/>
<line x1="96.80" y1="554.39" x2="98.20" y2="554.39" stroke="#333" stroke-width="0.6"/>
<line x1="96.80" y1="552.45" x2="98.20" y2="552.45" stroke="#333" stroke-width="0.6"/>
<line x1="96.80" y1="550.50" x2="98.20" y2="550.50" stroke="#333" stroke-width="0.6"/>
<line x1="96.80" y1="548.56" x2="98.20" y2="548.56" stroke="#333" stroke-width="0.6"/>
<line x1="96.80" y1="546.62" x2="98.20" y2="546.62" stroke="#333" stroke-width="0.6"/>
<line x1="96.80" y1="544.67" x2="98.20" y2="544.67" stroke="#333" stroke-width="0.6"/>
<line x1="96.80" y1="542.73" x2="98.20" y2="542.73" stroke="#333" stroke-width="0.6"/>
<line x1="96.80" y1="540.78" x2="98.20" y2="540.78" stroke="#333" stroke-width="0.6"/>
<line x1="96.80" y1="538.84" x2="98.20" y2="538.84" stroke="#333" stroke-width="0.6"/>
<line x1="96.80" y1="536.89" x2="98.20" y2="536.89" stroke="#333" stroke-width="0.6"/>
<line x1="96.80" y1="534.94" x2="98.20" y2="534.94" stroke="#333" stroke-width="0.6"/>
<line x1="100.92" y1="571.90" x2="100.92" y2="573.30" stroke="#333" stroke-width="0.6"/>
<line x1="103.65" y1="571.90" x2="103.65" y2="573.30" stroke="#333" stroke-width="0.6"/>
<line x1="106.38" y1="571.90" x2="106.38" y2="573.30" stroke="#333" stroke-width="0.6"/>
<line x1="109.10" y1="571.90" x2="109.10" y2="573.30" stroke="#333" stroke-width="0.6"/>
<line x1="111.83" y1="571.90" x2="111.83" y2="573.30" stroke="#333" stroke-width="0.6"/>
<line x1="114.55" y1="571.90" x2="114.55" y2="573.30" stroke="#333" stroke-width="0.6"/>
<line x1="117.28" y1="571.90" x2="117.28" y2="573.30" stroke="#333" stroke-width="0.6"/>
<line x1="120.00" y1="571.90" x2="120.00" y2="573.30" stroke="#333" stroke-width="0.6"/>
<line x1="122.72" y1="571.90" x2="122.72" y2="573.30" stroke="#333" stroke-width="0.6"/>
<line x1="125.45" y1="571.90" x2="125.45" y2="573.30" stroke="#333" stroke-width="0.6"/>
<line x1="128.18" y1="571.90" x2="128.18" y2="573.30" stroke="#333" stroke-width="0.6"/>
<line x1="130.90" y1="571.90" x2="130.90" y2="573.30" stroke="#333" stroke-width="0.6"/>
<line x1="133.62" y1="571.90" x2="133.62" y2="573.30" stroke="#333" stroke-width="0.6"/>
<line x1="136.35" y1="571.90" x2="136.35" y2="573.30" stroke="#333" stroke-width="0.6"/>
<line x1="139.07" y1="571.90" x2="139.07" y2="573.30" stroke="#333" stroke-width="0.6"/>
<line x1="141.80" y1="571.90" x2="141.80" y2="573.30" stroke="#333" stroke-width="0.6"/>
<line x1="144.53" y1="571.90" x2="144.53" y2="573.30" stroke="#333" stroke-width="0.6"/>
<line x1="147.25" y1="571.90" x2="147.25" y2="573.30" stroke="#333" stroke-width="0.6"/>
<line x1="149.97" y1="571.90" x2="149.97" y2="573.30" stroke="#333" stroke-width="0.6"/>
<text x="99.00" y="578.50" font-size="4.6" text-anchor="middle" font-weight="normal" fill="#111">10<tspan dy="-1.6" font-size="3.2">0</tspan></text>
<text x="112.62" y="578.50" font-size="4.6" text-anchor="middle" font-weight="normal" fill="#111">10<tspan dy="-1.6" font-size="3.2">1</tspan></text>
<text x="126.25" y="578.50" font-size="4.6" text-anchor="middle" font-weight="normal" fill="#111">10<tspan dy="-1.6" font-size="3.2">2</tspan></text>
<text x="139.88" y="578.50" font-size="4.6" text-anchor="middle" font-weight="normal" fill="#111">10<tspan dy="-1.6" font-size="3.2">3</tspan></text>
<text x="153.50" y="578.50" font-size="4.6" text-anchor="middle" font-weight="normal" fill="#111">10<tspan dy="-1.6" font-size="3.2">4</tspan></text>
<text x="95.20" y="533.80" font-size="4.6" text-anchor="middle" font-weight="normal" fill="#111" transform="rotate(-90 95.20 533.80)">10<tspan dy="-1.6" font-size="3.2">4</tspan></text>
<text x="95.20" y="570.10" font-size="4.6" text-anchor="middle" font-weight="normal" fill="#111" transform="rotate(-90 95.20 570.10)">10<tspan dy="-1.6" font-size="3.2">0</tspan></text>
<text x="151.20" y="545.70" font-size="9.2" text-anchor="end" font-weight="normal" fill="#222">0.32%</text>
<text x="198.60" y="531.00" font-size="9.0" text-anchor="middle" font-weight="bold" fill="#111" stroke="#111" stroke-width="0.25">IL-18</text>
<rect x="171.50" y="533.20" width="54.50" height="38.90" fill="#fff" stroke="#333" stroke-width="0.9"/>
<polygon points="176.2,567 178,565 182,563 187,562 193.9,561.8 193,563.5 190,566.5 186,570 182,571.6 176.4,571.6" fill="#111" stroke="#111" stroke-width="0.6" stroke-linejoin="round"/>
<path d="M179.5 568.1h.8v.8h-.8zM189.2 562.6h.8v.8h-.8zM181.9 564.1h.8v.8h-.8zM190.6 566.0h.8v.8h-.8zM185.8 570.1h.8v.8h-.8zM188.2 561.1h.8v.8h-.8zM182.3 561.3h.8v.8h-.8zM188.4 568.2h.8v.8h-.8zM181.0 570.4h.8v.8h-.8zM192.2 563.3h.8v.8h-.8zM192.7 565.5h.8v.8h-.8zM184.4 566.7h.8v.8h-.8zM185.6 568.6h.8v.8h-.8zM173.2 563.8h.8v.8h-.8zM175.5 569.9h.8v.8h-.8zM175.0 567.3h.8v.8h-.8zM173.4 568.2h.8v.8h-.8zM174.9 563.6h.8v.8h-.8zM173.1 565.7h.8v.8h-.8z" fill="#333"/>
<path d="M194.8 552.6h.9v.9h-.9zM190.7 554.5h.9v.9h-.9zM190.5 553.0h.9v.9h-.9z" fill="#555"/>
<line x1="176.00" y1="533.20" x2="176.00" y2="572.10" stroke="#444" stroke-width="1.0"/>
<line x1="171.50" y1="562.10" x2="226.00" y2="562.10" stroke="#333" stroke-width="1.0"/>
<line x1="170.10" y1="570.15" x2="171.50" y2="570.15" stroke="#333" stroke-width="0.6"/>
<line x1="170.10" y1="568.21" x2="171.50" y2="568.21" stroke="#333" stroke-width="0.6"/>
<line x1="170.10" y1="566.26" x2="171.50" y2="566.26" stroke="#333" stroke-width="0.6"/>
<line x1="170.10" y1="564.32" x2="171.50" y2="564.32" stroke="#333" stroke-width="0.6"/>
<line x1="170.10" y1="562.38" x2="171.50" y2="562.38" stroke="#333" stroke-width="0.6"/>
<line x1="170.10" y1="560.43" x2="171.50" y2="560.43" stroke="#333" stroke-width="0.6"/>
<line x1="170.10" y1="558.49" x2="171.50" y2="558.49" stroke="#333" stroke-width="0.6"/>
<line x1="170.10" y1="556.54" x2="171.50" y2="556.54" stroke="#333" stroke-width="0.6"/>
<line x1="170.10" y1="554.60" x2="171.50" y2="554.60" stroke="#333" stroke-width="0.6"/>
<line x1="170.10" y1="552.65" x2="171.50" y2="552.65" stroke="#333" stroke-width="0.6"/>
<line x1="170.10" y1="550.71" x2="171.50" y2="550.71" stroke="#333" stroke-width="0.6"/>
<line x1="170.10" y1="548.76" x2="171.50" y2="548.76" stroke="#333" stroke-width="0.6"/>
<line x1="170.10" y1="546.82" x2="171.50" y2="546.82" stroke="#333" stroke-width="0.6"/>
<line x1="170.10" y1="544.87" x2="171.50" y2="544.87" stroke="#333" stroke-width="0.6"/>
<line x1="170.10" y1="542.93" x2="171.50" y2="542.93" stroke="#333" stroke-width="0.6"/>
<line x1="170.10" y1="540.98" x2="171.50" y2="540.98" stroke="#333" stroke-width="0.6"/>
<line x1="170.10" y1="539.04" x2="171.50" y2="539.04" stroke="#333" stroke-width="0.6"/>
<line x1="170.10" y1="537.09" x2="171.50" y2="537.09" stroke="#333" stroke-width="0.6"/>
<line x1="170.10" y1="535.14" x2="171.50" y2="535.14" stroke="#333" stroke-width="0.6"/>
<line x1="174.22" y1="572.10" x2="174.22" y2="573.50" stroke="#333" stroke-width="0.6"/>
<line x1="176.95" y1="572.10" x2="176.95" y2="573.50" stroke="#333" stroke-width="0.6"/>
<line x1="179.68" y1="572.10" x2="179.68" y2="573.50" stroke="#333" stroke-width="0.6"/>
<line x1="182.40" y1="572.10" x2="182.40" y2="573.50" stroke="#333" stroke-width="0.6"/>
<line x1="185.12" y1="572.10" x2="185.12" y2="573.50" stroke="#333" stroke-width="0.6"/>
<line x1="187.85" y1="572.10" x2="187.85" y2="573.50" stroke="#333" stroke-width="0.6"/>
<line x1="190.57" y1="572.10" x2="190.57" y2="573.50" stroke="#333" stroke-width="0.6"/>
<line x1="193.30" y1="572.10" x2="193.30" y2="573.50" stroke="#333" stroke-width="0.6"/>
<line x1="196.03" y1="572.10" x2="196.03" y2="573.50" stroke="#333" stroke-width="0.6"/>
<line x1="198.75" y1="572.10" x2="198.75" y2="573.50" stroke="#333" stroke-width="0.6"/>
<line x1="201.47" y1="572.10" x2="201.47" y2="573.50" stroke="#333" stroke-width="0.6"/>
<line x1="204.20" y1="572.10" x2="204.20" y2="573.50" stroke="#333" stroke-width="0.6"/>
<line x1="206.93" y1="572.10" x2="206.93" y2="573.50" stroke="#333" stroke-width="0.6"/>
<line x1="209.65" y1="572.10" x2="209.65" y2="573.50" stroke="#333" stroke-width="0.6"/>
<line x1="212.38" y1="572.10" x2="212.38" y2="573.50" stroke="#333" stroke-width="0.6"/>
<line x1="215.10" y1="572.10" x2="215.10" y2="573.50" stroke="#333" stroke-width="0.6"/>
<line x1="217.82" y1="572.10" x2="217.82" y2="573.50" stroke="#333" stroke-width="0.6"/>
<line x1="220.55" y1="572.10" x2="220.55" y2="573.50" stroke="#333" stroke-width="0.6"/>
<line x1="223.28" y1="572.10" x2="223.28" y2="573.50" stroke="#333" stroke-width="0.6"/>
<text x="172.30" y="578.70" font-size="4.6" text-anchor="middle" font-weight="normal" fill="#111">10<tspan dy="-1.6" font-size="3.2">0</tspan></text>
<text x="185.93" y="578.70" font-size="4.6" text-anchor="middle" font-weight="normal" fill="#111">10<tspan dy="-1.6" font-size="3.2">1</tspan></text>
<text x="199.55" y="578.70" font-size="4.6" text-anchor="middle" font-weight="normal" fill="#111">10<tspan dy="-1.6" font-size="3.2">2</tspan></text>
<text x="213.18" y="578.70" font-size="4.6" text-anchor="middle" font-weight="normal" fill="#111">10<tspan dy="-1.6" font-size="3.2">3</tspan></text>
<text x="226.80" y="578.70" font-size="4.6" text-anchor="middle" font-weight="normal" fill="#111">10<tspan dy="-1.6" font-size="3.2">4</tspan></text>
<text x="168.50" y="534.00" font-size="4.6" text-anchor="middle" font-weight="normal" fill="#111" transform="rotate(-90 168.50 534.00)">10<tspan dy="-1.6" font-size="3.2">4</tspan></text>
<text x="168.50" y="570.30" font-size="4.6" text-anchor="middle" font-weight="normal" fill="#111" transform="rotate(-90 168.50 570.30)">10<tspan dy="-1.6" font-size="3.2">0</tspan></text>
<text x="224.50" y="545.90" font-size="9.2" text-anchor="end" font-weight="normal" fill="#222">0.17%</text>
<text x="271.70" y="531.00" font-size="9.0" text-anchor="middle" font-weight="bold" fill="#111" stroke="#111" stroke-width="0.25">IL-36&#946;</text>
<rect x="246.00" y="533.20" width="54.50" height="38.90" fill="#fff" stroke="#333" stroke-width="0.9"/>
<polygon points="255,567.5 258,565.5 262,563.5 266,562 271.7,561.4 270.5,563.5 267,567 263,570.5 259,570.5 255.5,569.5" fill="#111" stroke="#111" stroke-width="0.6" stroke-linejoin="round"/>
<path d="M258.5 562.7h.8v.8h-.8zM257.7 564.2h.8v.8h-.8zM267.0 563.2h.8v.8h-.8zM258.4 564.6h.8v.8h-.8zM269.0 568.1h.8v.8h-.8zM260.0 565.2h.8v.8h-.8zM268.5 561.3h.8v.8h-.8zM263.0 563.1h.8v.8h-.8zM269.8 569.0h.8v.8h-.8zM271.6 565.3h.8v.8h-.8zM262.6 564.5h.8v.8h-.8zM257.8 563.9h.8v.8h-.8zM255.5 568.3h.8v.8h-.8zM263.5 564.5h.8v.8h-.8zM250.7 565.7h.8v.8h-.8zM248.5 568.0h.8v.8h-.8zM248.2 566.9h.8v.8h-.8zM247.7 565.0h.8v.8h-.8zM251.3 563.0h.8v.8h-.8zM250.6 562.9h.8v.8h-.8z" fill="#333"/>
<path d="M265.5 557.1h.9v.9h-.9zM262.3 558.1h.9v.9h-.9zM260.4 555.2h.9v.9h-.9zM265.4 557.9h.9v.9h-.9z" fill="#555"/>
<line x1="252.20" y1="533.20" x2="252.20" y2="572.10" stroke="#444" stroke-width="1.0"/>
<line x1="246.00" y1="562.40" x2="300.50" y2="562.40" stroke="#333" stroke-width="1.0"/>
<line x1="244.60" y1="570.15" x2="246.00" y2="570.15" stroke="#333" stroke-width="0.6"/>
<line x1="244.60" y1="568.21" x2="246.00" y2="568.21" stroke="#333" stroke-width="0.6"/>
<line x1="244.60" y1="566.26" x2="246.00" y2="566.26" stroke="#333" stroke-width="0.6"/>
<line x1="244.60" y1="564.32" x2="246.00" y2="564.32" stroke="#333" stroke-width="0.6"/>
<line x1="244.60" y1="562.38" x2="246.00" y2="562.38" stroke="#333" stroke-width="0.6"/>
<line x1="244.60" y1="560.43" x2="246.00" y2="560.43" stroke="#333" stroke-width="0.6"/>
<line x1="244.60" y1="558.49" x2="246.00" y2="558.49" stroke="#333" stroke-width="0.6"/>
<line x1="244.60" y1="556.54" x2="246.00" y2="556.54" stroke="#333" stroke-width="0.6"/>
<line x1="244.60" y1="554.60" x2="246.00" y2="554.60" stroke="#333" stroke-width="0.6"/>
<line x1="244.60" y1="552.65" x2="246.00" y2="552.65" stroke="#333" stroke-width="0.6"/>
<line x1="244.60" y1="550.71" x2="246.00" y2="550.71" stroke="#333" stroke-width="0.6"/>
<line x1="244.60" y1="548.76" x2="246.00" y2="548.76" stroke="#333" stroke-width="0.6"/>
<line x1="244.60" y1="546.82" x2="246.00" y2="546.82" stroke="#333" stroke-width="0.6"/>
<line x1="244.60" y1="544.87" x2="246.00" y2="544.87" stroke="#333" stroke-width="0.6"/>
<line x1="244.60" y1="542.93" x2="246.00" y2="542.93" stroke="#333" stroke-width="0.6"/>
<line x1="244.60" y1="540.98" x2="246.00" y2="540.98" stroke="#333" stroke-width="0.6"/>
<line x1="244.60" y1="539.04" x2="246.00" y2="539.04" stroke="#333" stroke-width="0.6"/>
<line x1="244.60" y1="537.09" x2="246.00" y2="537.09" stroke="#333" stroke-width="0.6"/>
<line x1="244.60" y1="535.14" x2="246.00" y2="535.14" stroke="#333" stroke-width="0.6"/>
<line x1="248.72" y1="572.10" x2="248.72" y2="573.50" stroke="#333" stroke-width="0.6"/>
<line x1="251.45" y1="572.10" x2="251.45" y2="573.50" stroke="#333" stroke-width="0.6"/>
<line x1="254.18" y1="572.10" x2="254.18" y2="573.50" stroke="#333" stroke-width="0.6"/>
<line x1="256.90" y1="572.10" x2="256.90" y2="573.50" stroke="#333" stroke-width="0.6"/>
<line x1="259.62" y1="572.10" x2="259.62" y2="573.50" stroke="#333" stroke-width="0.6"/>
<line x1="262.35" y1="572.10" x2="262.35" y2="573.50" stroke="#333" stroke-width="0.6"/>
<line x1="265.07" y1="572.10" x2="265.07" y2="573.50" stroke="#333" stroke-width="0.6"/>
<line x1="267.80" y1="572.10" x2="267.80" y2="573.50" stroke="#333" stroke-width="0.6"/>
<line x1="270.52" y1="572.10" x2="270.52" y2="573.50" stroke="#333" stroke-width="0.6"/>
<line x1="273.25" y1="572.10" x2="273.25" y2="573.50" stroke="#333" stroke-width="0.6"/>
<line x1="275.98" y1="572.10" x2="275.98" y2="573.50" stroke="#333" stroke-width="0.6"/>
<line x1="278.70" y1="572.10" x2="278.70" y2="573.50" stroke="#333" stroke-width="0.6"/>
<line x1="281.43" y1="572.10" x2="281.43" y2="573.50" stroke="#333" stroke-width="0.6"/>
<line x1="284.15" y1="572.10" x2="284.15" y2="573.50" stroke="#333" stroke-width="0.6"/>
<line x1="286.88" y1="572.10" x2="286.88" y2="573.50" stroke="#333" stroke-width="0.6"/>
<line x1="289.60" y1="572.10" x2="289.60" y2="573.50" stroke="#333" stroke-width="0.6"/>
<line x1="292.32" y1="572.10" x2="292.32" y2="573.50" stroke="#333" stroke-width="0.6"/>
<line x1="295.05" y1="572.10" x2="295.05" y2="573.50" stroke="#333" stroke-width="0.6"/>
<line x1="297.77" y1="572.10" x2="297.77" y2="573.50" stroke="#333" stroke-width="0.6"/>
<text x="246.80" y="578.70" font-size="4.6" text-anchor="middle" font-weight="normal" fill="#111">10<tspan dy="-1.6" font-size="3.2">0</tspan></text>
<text x="260.43" y="578.70" font-size="4.6" text-anchor="middle" font-weight="normal" fill="#111">10<tspan dy="-1.6" font-size="3.2">1</tspan></text>
<text x="274.05" y="578.70" font-size="4.6" text-anchor="middle" font-weight="normal" fill="#111">10<tspan dy="-1.6" font-size="3.2">2</tspan></text>
<text x="287.68" y="578.70" font-size="4.6" text-anchor="middle" font-weight="normal" fill="#111">10<tspan dy="-1.6" font-size="3.2">3</tspan></text>
<text x="301.30" y="578.70" font-size="4.6" text-anchor="middle" font-weight="normal" fill="#111">10<tspan dy="-1.6" font-size="3.2">4</tspan></text>
<text x="243.00" y="534.00" font-size="4.6" text-anchor="middle" font-weight="normal" fill="#111" transform="rotate(-90 243.00 534.00)">10<tspan dy="-1.6" font-size="3.2">4</tspan></text>
<text x="243.00" y="570.30" font-size="4.6" text-anchor="middle" font-weight="normal" fill="#111" transform="rotate(-90 243.00 570.30)">10<tspan dy="-1.6" font-size="3.2">0</tspan></text>
<text x="299.00" y="545.90" font-size="9.2" text-anchor="end" font-weight="normal" fill="#222">0.23%</text>
<text x="46.60" y="595.60" font-size="9.0" text-anchor="middle" font-weight="bold" fill="#111" stroke="#111" stroke-width="0.25">IL-18+IL-36&#946;</text>
<rect x="24.00" y="597.80" width="54.50" height="38.90" fill="#fff" stroke="#333" stroke-width="0.9"/>
<polygon points="33,632 34.5,629.5 37,628.5 41,627.5 43.5,626 47,625.5 48.8,627 47.5,630 45,633.5 42,636.1 36,636.1 33.5,635" fill="#111" stroke="#111" stroke-width="0.6" stroke-linejoin="round"/>
<path d="M43.5 631.1h.8v.8h-.8zM48.3 632.1h.8v.8h-.8zM39.2 627.8h.8v.8h-.8zM32.8 630.0h.8v.8h-.8zM45.3 626.7h.8v.8h-.8zM44.8 626.9h.8v.8h-.8zM38.3 627.6h.8v.8h-.8zM35.3 633.0h.8v.8h-.8zM46.7 629.1h.8v.8h-.8zM34.9 627.5h.8v.8h-.8zM32.6 633.4h.8v.8h-.8zM45.5 631.6h.8v.8h-.8zM25.6 631.3h.8v.8h-.8zM29.0 634.2h.8v.8h-.8zM28.6 627.6h.8v.8h-.8zM28.1 628.9h.8v.8h-.8zM25.9 631.7h.8v.8h-.8zM26.1 628.4h.8v.8h-.8z" fill="#333"/>
<path d="M52.3 616.3h.9v.9h-.9zM41.0 620.2h.9v.9h-.9zM41.7 622.1h.9v.9h-.9zM44.4 616.7h.9v.9h-.9zM43.6 622.0h.9v.9h-.9zM51.4 611.6h.9v.9h-.9zM39.9 622.1h.9v.9h-.9zM48.7 615.2h.9v.9h-.9zM45.3 612.4h.9v.9h-.9zM48.1 611.0h.9v.9h-.9zM46.2 615.2h.9v.9h-.9zM42.9 610.0h.9v.9h-.9zM42.7 621.3h.9v.9h-.9zM37.4 616.7h.9v.9h-.9zM50.4 624.3h.9v.9h-.9zM41.3 618.2h.9v.9h-.9zM45.2 614.5h.9v.9h-.9zM49.3 620.6h.9v.9h-.9z" fill="#555"/>
<line x1="30.20" y1="597.80" x2="30.20" y2="636.70" stroke="#444" stroke-width="1.0"/>
<line x1="24.00" y1="626.40" x2="78.50" y2="626.40" stroke="#333" stroke-width="1.0"/>
<line x1="22.60" y1="634.75" x2="24.00" y2="634.75" stroke="#333" stroke-width="0.6"/>
<line x1="22.60" y1="632.81" x2="24.00" y2="632.81" stroke="#333" stroke-width="0.6"/>
<line x1="22.60" y1="630.86" x2="24.00" y2="630.86" stroke="#333" stroke-width="0.6"/>
<line x1="22.60" y1="628.92" x2="24.00" y2="628.92" stroke="#333" stroke-width="0.6"/>
<line x1="22.60" y1="626.97" x2="24.00" y2="626.97" stroke="#333" stroke-width="0.6"/>
<line x1="22.60" y1="625.03" x2="24.00" y2="625.03" stroke="#333" stroke-width="0.6"/>
<line x1="22.60" y1="623.08" x2="24.00" y2="623.08" stroke="#333" stroke-width="0.6"/>
<line x1="22.60" y1="621.14" x2="24.00" y2="621.14" stroke="#333" stroke-width="0.6"/>
<line x1="22.60" y1="619.19" x2="24.00" y2="619.19" stroke="#333" stroke-width="0.6"/>
<line x1="22.60" y1="617.25" x2="24.00" y2="617.25" stroke="#333" stroke-width="0.6"/>
<line x1="22.60" y1="615.30" x2="24.00" y2="615.30" stroke="#333" stroke-width="0.6"/>
<line x1="22.60" y1="613.36" x2="24.00" y2="613.36" stroke="#333" stroke-width="0.6"/>
<line x1="22.60" y1="611.41" x2="24.00" y2="611.41" stroke="#333" stroke-width="0.6"/>
<line x1="22.60" y1="609.47" x2="24.00" y2="609.47" stroke="#333" stroke-width="0.6"/>
<line x1="22.60" y1="607.52" x2="24.00" y2="607.52" stroke="#333" stroke-width="0.6"/>
<line x1="22.60" y1="605.58" x2="24.00" y2="605.58" stroke="#333" stroke-width="0.6"/>
<line x1="22.60" y1="603.63" x2="24.00" y2="603.63" stroke="#333" stroke-width="0.6"/>
<line x1="22.60" y1="601.69" x2="24.00" y2="601.69" stroke="#333" stroke-width="0.6"/>
<line x1="22.60" y1="599.74" x2="24.00" y2="599.74" stroke="#333" stroke-width="0.6"/>
<line x1="26.73" y1="636.70" x2="26.73" y2="638.10" stroke="#333" stroke-width="0.6"/>
<line x1="29.45" y1="636.70" x2="29.45" y2="638.10" stroke="#333" stroke-width="0.6"/>
<line x1="32.17" y1="636.70" x2="32.17" y2="638.10" stroke="#333" stroke-width="0.6"/>
<line x1="34.90" y1="636.70" x2="34.90" y2="638.10" stroke="#333" stroke-width="0.6"/>
<line x1="37.62" y1="636.70" x2="37.62" y2="638.10" stroke="#333" stroke-width="0.6"/>
<line x1="40.35" y1="636.70" x2="40.35" y2="638.10" stroke="#333" stroke-width="0.6"/>
<line x1="43.08" y1="636.70" x2="43.08" y2="638.10" stroke="#333" stroke-width="0.6"/>
<line x1="45.80" y1="636.70" x2="45.80" y2="638.10" stroke="#333" stroke-width="0.6"/>
<line x1="48.52" y1="636.70" x2="48.52" y2="638.10" stroke="#333" stroke-width="0.6"/>
<line x1="51.25" y1="636.70" x2="51.25" y2="638.10" stroke="#333" stroke-width="0.6"/>
<line x1="53.98" y1="636.70" x2="53.98" y2="638.10" stroke="#333" stroke-width="0.6"/>
<line x1="56.70" y1="636.70" x2="56.70" y2="638.10" stroke="#333" stroke-width="0.6"/>
<line x1="59.42" y1="636.70" x2="59.42" y2="638.10" stroke="#333" stroke-width="0.6"/>
<line x1="62.15" y1="636.70" x2="62.15" y2="638.10" stroke="#333" stroke-width="0.6"/>
<line x1="64.88" y1="636.70" x2="64.88" y2="638.10" stroke="#333" stroke-width="0.6"/>
<line x1="67.60" y1="636.70" x2="67.60" y2="638.10" stroke="#333" stroke-width="0.6"/>
<line x1="70.33" y1="636.70" x2="70.33" y2="638.10" stroke="#333" stroke-width="0.6"/>
<line x1="73.05" y1="636.70" x2="73.05" y2="638.10" stroke="#333" stroke-width="0.6"/>
<line x1="75.78" y1="636.70" x2="75.78" y2="638.10" stroke="#333" stroke-width="0.6"/>
<text x="24.80" y="643.30" font-size="4.6" text-anchor="middle" font-weight="normal" fill="#111">10<tspan dy="-1.6" font-size="3.2">0</tspan></text>
<text x="38.42" y="643.30" font-size="4.6" text-anchor="middle" font-weight="normal" fill="#111">10<tspan dy="-1.6" font-size="3.2">1</tspan></text>
<text x="52.05" y="643.30" font-size="4.6" text-anchor="middle" font-weight="normal" fill="#111">10<tspan dy="-1.6" font-size="3.2">2</tspan></text>
<text x="65.67" y="643.30" font-size="4.6" text-anchor="middle" font-weight="normal" fill="#111">10<tspan dy="-1.6" font-size="3.2">3</tspan></text>
<text x="79.30" y="643.30" font-size="4.6" text-anchor="middle" font-weight="normal" fill="#111">10<tspan dy="-1.6" font-size="3.2">4</tspan></text>
<text x="21.00" y="598.60" font-size="4.6" text-anchor="middle" font-weight="normal" fill="#111" transform="rotate(-90 21.00 598.60)">10<tspan dy="-1.6" font-size="3.2">4</tspan></text>
<text x="21.00" y="634.90" font-size="4.6" text-anchor="middle" font-weight="normal" fill="#111" transform="rotate(-90 21.00 634.90)">10<tspan dy="-1.6" font-size="3.2">0</tspan></text>
<text x="75.70" y="610.50" font-size="9.2" text-anchor="end" font-weight="normal" fill="#222">0.6%</text>
<text x="122.60" y="595.60" font-size="9.0" text-anchor="middle" font-weight="bold" fill="#111" stroke="#111" stroke-width="0.25">IL-12+IL-18</text>
<rect x="98.70" y="597.80" width="54.50" height="38.90" fill="#fff" stroke="#333" stroke-width="0.9"/>
<polygon points="106.2,630 108,628 112,626.5 117,625 121,624.5 124,625 123,628 119,632 115,636.1 106.5,636.1" fill="#111" stroke="#111" stroke-width="0.6" stroke-linejoin="round"/>
<path d="M119.5 634.1h.8v.8h-.8zM104.5 632.5h.8v.8h-.8zM117.7 628.9h.8v.8h-.8zM109.9 630.2h.8v.8h-.8zM121.0 631.7h.8v.8h-.8zM108.2 632.8h.8v.8h-.8zM107.3 626.2h.8v.8h-.8zM123.6 632.7h.8v.8h-.8zM113.6 634.7h.8v.8h-.8zM118.6 630.0h.8v.8h-.8zM106.0 628.2h.8v.8h-.8zM117.6 624.7h.8v.8h-.8zM108.0 632.8h.8v.8h-.8zM101.9 634.9h.8v.8h-.8zM102.7 628.9h.8v.8h-.8zM101.2 630.7h.8v.8h-.8zM104.4 632.9h.8v.8h-.8zM102.4 629.4h.8v.8h-.8zM104.2 633.9h.8v.8h-.8z" fill="#333"/>
<path d="M118.2 617.9h.9v.9h-.9zM118.2 608.8h.9v.9h-.9zM120.7 611.2h.9v.9h-.9zM116.7 607.1h.9v.9h-.9zM115.3 619.5h.9v.9h-.9zM122.0 606.6h.9v.9h-.9zM111.1 614.7h.9v.9h-.9zM122.3 620.6h.9v.9h-.9zM120.1 612.0h.9v.9h-.9zM119.3 607.8h.9v.9h-.9zM116.0 615.5h.9v.9h-.9zM115.6 621.8h.9v.9h-.9zM117.3 615.8h.9v.9h-.9zM118.4 625.6h.9v.9h-.9zM116.3 621.2h.9v.9h-.9zM118.6 609.5h.9v.9h-.9zM116.7 607.9h.9v.9h-.9zM115.2 617.3h.9v.9h-.9zM114.6 622.0h.9v.9h-.9zM112.0 615.8h.9v.9h-.9zM115.8 609.5h.9v.9h-.9zM113.5 621.1h.9v.9h-.9zM120.4 610.1h.9v.9h-.9zM114.5 624.2h.9v.9h-.9zM115.8 622.9h.9v.9h-.9zM113.2 615.5h.9v.9h-.9zM120.2 609.8h.9v.9h-.9zM116.4 606.0h.9v.9h-.9zM119.4 609.0h.9v.9h-.9zM119.1 618.3h.9v.9h-.9zM112.9 620.8h.9v.9h-.9zM114.8 622.0h.9v.9h-.9zM113.6 621.4h.9v.9h-.9zM115.3 606.3h.9v.9h-.9zM116.4 622.1h.9v.9h-.9zM122.9 612.3h.9v.9h-.9zM114.1 609.3h.9v.9h-.9zM122.8 614.0h.9v.9h-.9zM113.7 609.2h.9v.9h-.9zM115.9 620.5h.9v.9h-.9zM118.2 618.8h.9v.9h-.9zM117.4 620.2h.9v.9h-.9zM116.9 613.9h.9v.9h-.9zM117.3 617.8h.9v.9h-.9zM117.4 620.9h.9v.9h-.9zM118.9 616.2h.9v.9h-.9zM125.4 620.9h.9v.9h-.9zM122.4 610.4h.9v.9h-.9zM120.7 620.9h.9v.9h-.9zM112.5 622.3h.9v.9h-.9zM117.9 617.1h.9v.9h-.9zM120.6 616.7h.9v.9h-.9zM115.5 623.5h.9v.9h-.9zM115.6 616.2h.9v.9h-.9zM109.9 619.9h.9v.9h-.9zM118.0 619.5h.9v.9h-.9zM111.3 619.8h.9v.9h-.9zM118.2 616.8h.9v.9h-.9zM113.7 619.5h.9v.9h-.9zM114.8 605.2h.9v.9h-.9zM114.4 609.8h.9v.9h-.9zM112.4 614.8h.9v.9h-.9zM113.7 621.0h.9v.9h-.9zM120.5 624.3h.9v.9h-.9zM115.4 622.1h.9v.9h-.9z" fill="#555"/>
<line x1="105.30" y1="597.80" x2="105.30" y2="636.70" stroke="#444" stroke-width="1.0"/>
<line x1="98.70" y1="626.70" x2="153.20" y2="626.70" stroke="#333" stroke-width="1.0"/>
<line x1="97.30" y1="634.75" x2="98.70" y2="634.75" stroke="#333" stroke-width="0.6"/>
<line x1="97.30" y1="632.81" x2="98.70" y2="632.81" stroke="#333" stroke-width="0.6"/>
<line x1="97.30" y1="630.86" x2="98.70" y2="630.86" stroke="#333" stroke-width="0.6"/>
<line x1="97.30" y1="628.92" x2="98.70" y2="628.92" stroke="#333" stroke-width="0.6"/>
<line x1="97.30" y1="626.97" x2="98.70" y2="626.97" stroke="#333" stroke-width="0.6"/>
<line x1="97.30" y1="625.03" x2="98.70" y2="625.03" stroke="#333" stroke-width="0.6"/>
<line x1="97.30" y1="623.08" x2="98.70" y2="623.08" stroke="#333" stroke-width="0.6"/>
<line x1="97.30" y1="621.14" x2="98.70" y2="621.14" stroke="#333" stroke-width="0.6"/>
<line x1="97.30" y1="619.19" x2="98.70" y2="619.19" stroke="#333" stroke-width="0.6"/>
<line x1="97.30" y1="617.25" x2="98.70" y2="617.25" stroke="#333" stroke-width="0.6"/>
<line x1="97.30" y1="615.30" x2="98.70" y2="615.30" stroke="#333" stroke-width="0.6"/>
<line x1="97.30" y1="613.36" x2="98.70" y2="613.36" stroke="#333" stroke-width="0.6"/>
<line x1="97.30" y1="611.41" x2="98.70" y2="611.41" stroke="#333" stroke-width="0.6"/>
<line x1="97.30" y1="609.47" x2="98.70" y2="609.47" stroke="#333" stroke-width="0.6"/>
<line x1="97.30" y1="607.52" x2="98.70" y2="607.52" stroke="#333" stroke-width="0.6"/>
<line x1="97.30" y1="605.58" x2="98.70" y2="605.58" stroke="#333" stroke-width="0.6"/>
<line x1="97.30" y1="603.63" x2="98.70" y2="603.63" stroke="#333" stroke-width="0.6"/>
<line x1="97.30" y1="601.69" x2="98.70" y2="601.69" stroke="#333" stroke-width="0.6"/>
<line x1="97.30" y1="599.74" x2="98.70" y2="599.74" stroke="#333" stroke-width="0.6"/>
<line x1="101.42" y1="636.70" x2="101.42" y2="638.10" stroke="#333" stroke-width="0.6"/>
<line x1="104.15" y1="636.70" x2="104.15" y2="638.10" stroke="#333" stroke-width="0.6"/>
<line x1="106.88" y1="636.70" x2="106.88" y2="638.10" stroke="#333" stroke-width="0.6"/>
<line x1="109.60" y1="636.70" x2="109.60" y2="638.10" stroke="#333" stroke-width="0.6"/>
<line x1="112.33" y1="636.70" x2="112.33" y2="638.10" stroke="#333" stroke-width="0.6"/>
<line x1="115.05" y1="636.70" x2="115.05" y2="638.10" stroke="#333" stroke-width="0.6"/>
<line x1="117.78" y1="636.70" x2="117.78" y2="638.10" stroke="#333" stroke-width="0.6"/>
<line x1="120.50" y1="636.70" x2="120.50" y2="638.10" stroke="#333" stroke-width="0.6"/>
<line x1="123.22" y1="636.70" x2="123.22" y2="638.10" stroke="#333" stroke-width="0.6"/>
<line x1="125.95" y1="636.70" x2="125.95" y2="638.10" stroke="#333" stroke-width="0.6"/>
<line x1="128.68" y1="636.70" x2="128.68" y2="638.10" stroke="#333" stroke-width="0.6"/>
<line x1="131.40" y1="636.70" x2="131.40" y2="638.10" stroke="#333" stroke-width="0.6"/>
<line x1="134.12" y1="636.70" x2="134.12" y2="638.10" stroke="#333" stroke-width="0.6"/>
<line x1="136.85" y1="636.70" x2="136.85" y2="638.10" stroke="#333" stroke-width="0.6"/>
<line x1="139.57" y1="636.70" x2="139.57" y2="638.10" stroke="#333" stroke-width="0.6"/>
<line x1="142.30" y1="636.70" x2="142.30" y2="638.10" stroke="#333" stroke-width="0.6"/>
<line x1="145.03" y1="636.70" x2="145.03" y2="638.10" stroke="#333" stroke-width="0.6"/>
<line x1="147.75" y1="636.70" x2="147.75" y2="638.10" stroke="#333" stroke-width="0.6"/>
<line x1="150.47" y1="636.70" x2="150.47" y2="638.10" stroke="#333" stroke-width="0.6"/>
<text x="99.50" y="643.30" font-size="4.6" text-anchor="middle" font-weight="normal" fill="#111">10<tspan dy="-1.6" font-size="3.2">0</tspan></text>
<text x="113.12" y="643.30" font-size="4.6" text-anchor="middle" font-weight="normal" fill="#111">10<tspan dy="-1.6" font-size="3.2">1</tspan></text>
<text x="126.75" y="643.30" font-size="4.6" text-anchor="middle" font-weight="normal" fill="#111">10<tspan dy="-1.6" font-size="3.2">2</tspan></text>
<text x="140.38" y="643.30" font-size="4.6" text-anchor="middle" font-weight="normal" fill="#111">10<tspan dy="-1.6" font-size="3.2">3</tspan></text>
<text x="154.00" y="643.30" font-size="4.6" text-anchor="middle" font-weight="normal" fill="#111">10<tspan dy="-1.6" font-size="3.2">4</tspan></text>
<text x="95.70" y="598.60" font-size="4.6" text-anchor="middle" font-weight="normal" fill="#111" transform="rotate(-90 95.70 598.60)">10<tspan dy="-1.6" font-size="3.2">4</tspan></text>
<text x="95.70" y="634.90" font-size="4.6" text-anchor="middle" font-weight="normal" fill="#111" transform="rotate(-90 95.70 634.90)">10<tspan dy="-1.6" font-size="3.2">0</tspan></text>
<text x="149.90" y="610.50" font-size="9.2" text-anchor="end" font-weight="normal" fill="#222">5%</text>
<text x="196.30" y="595.60" font-size="9.0" text-anchor="middle" font-weight="bold" fill="#111" stroke="#111" stroke-width="0.25">IL-12+IL-36&#946;</text>
<rect x="168.70" y="597.80" width="54.50" height="38.90" fill="#fff" stroke="#333" stroke-width="0.9"/>
<polygon points="177,633 181,629.5 186,626.5 191,623.5 195,622.8 196.5,625 194,629 189.5,633 184,634.5 178,634.5" fill="#111" stroke="#111" stroke-width="0.6" stroke-linejoin="round"/>
<path d="M183.1 624.2h.8v.8h-.8zM188.6 627.5h.8v.8h-.8zM178.1 628.1h.8v.8h-.8zM185.8 633.0h.8v.8h-.8zM188.3 633.4h.8v.8h-.8zM196.6 622.7h.8v.8h-.8zM179.2 625.9h.8v.8h-.8zM179.9 628.9h.8v.8h-.8zM188.3 623.8h.8v.8h-.8zM189.7 629.0h.8v.8h-.8zM186.3 624.8h.8v.8h-.8zM179.7 629.2h.8v.8h-.8zM191.7 626.1h.8v.8h-.8zM185.8 632.6h.8v.8h-.8zM170.7 630.7h.8v.8h-.8zM171.4 633.0h.8v.8h-.8zM173.9 631.1h.8v.8h-.8zM172.9 629.1h.8v.8h-.8zM174.6 631.7h.8v.8h-.8zM173.1 631.2h.8v.8h-.8z" fill="#333"/>
<path d="M186.4 620.4h.9v.9h-.9zM192.5 613.8h.9v.9h-.9zM188.8 611.3h.9v.9h-.9zM193.7 613.7h.9v.9h-.9zM189.9 616.1h.9v.9h-.9zM186.7 608.3h.9v.9h-.9zM191.8 611.3h.9v.9h-.9zM194.3 613.2h.9v.9h-.9zM189.7 621.7h.9v.9h-.9zM193.4 611.8h.9v.9h-.9zM190.7 617.5h.9v.9h-.9zM185.1 616.0h.9v.9h-.9zM193.7 608.9h.9v.9h-.9zM186.7 620.1h.9v.9h-.9zM194.2 607.7h.9v.9h-.9zM189.6 622.2h.9v.9h-.9zM191.0 614.6h.9v.9h-.9zM187.8 619.0h.9v.9h-.9zM192.1 605.3h.9v.9h-.9zM190.8 613.4h.9v.9h-.9zM193.8 605.1h.9v.9h-.9zM190.2 611.3h.9v.9h-.9zM188.1 621.7h.9v.9h-.9zM189.0 623.4h.9v.9h-.9zM189.8 618.8h.9v.9h-.9zM190.9 622.4h.9v.9h-.9zM191.1 621.3h.9v.9h-.9zM188.9 623.0h.9v.9h-.9zM193.5 620.5h.9v.9h-.9zM190.5 606.5h.9v.9h-.9zM190.6 623.2h.9v.9h-.9zM190.1 619.2h.9v.9h-.9zM191.6 622.3h.9v.9h-.9zM188.3 621.5h.9v.9h-.9zM195.8 615.2h.9v.9h-.9zM191.4 613.9h.9v.9h-.9zM189.4 619.4h.9v.9h-.9zM191.2 611.7h.9v.9h-.9zM197.4 609.8h.9v.9h-.9zM194.1 607.8h.9v.9h-.9zM186.8 620.4h.9v.9h-.9zM190.6 623.1h.9v.9h-.9zM187.1 616.4h.9v.9h-.9zM197.4 615.2h.9v.9h-.9zM192.0 607.8h.9v.9h-.9zM189.8 621.5h.9v.9h-.9zM195.2 612.0h.9v.9h-.9zM187.8 614.2h.9v.9h-.9zM185.7 619.4h.9v.9h-.9zM192.1 608.9h.9v.9h-.9zM189.6 619.8h.9v.9h-.9zM194.8 610.0h.9v.9h-.9zM194.0 617.0h.9v.9h-.9zM190.0 621.9h.9v.9h-.9zM193.4 607.2h.9v.9h-.9zM196.2 609.4h.9v.9h-.9zM188.5 618.4h.9v.9h-.9zM192.2 622.5h.9v.9h-.9zM193.2 614.9h.9v.9h-.9zM193.5 607.8h.9v.9h-.9zM188.8 621.3h.9v.9h-.9zM190.8 616.1h.9v.9h-.9zM190.9 621.0h.9v.9h-.9zM185.4 615.1h.9v.9h-.9zM192.8 616.6h.9v.9h-.9zM190.2 615.5h.9v.9h-.9zM190.3 617.3h.9v.9h-.9zM193.6 611.9h.9v.9h-.9zM189.6 611.3h.9v.9h-.9zM186.3 614.8h.9v.9h-.9z" fill="#555"/>
<line x1="175.50" y1="597.80" x2="175.50" y2="636.70" stroke="#444" stroke-width="1.0"/>
<line x1="168.70" y1="626.40" x2="223.20" y2="626.40" stroke="#333" stroke-width="1.0"/>
<line x1="167.30" y1="634.75" x2="168.70" y2="634.75" stroke="#333" stroke-width="0.6"/>
<line x1="167.30" y1="632.81" x2="168.70" y2="632.81" stroke="#333" stroke-width="0.6"/>
<line x1="167.30" y1="630.86" x2="168.70" y2="630.86" stroke="#333" stroke-width="0.6"/>
<line x1="167.30" y1="628.92" x2="168.70" y2="628.92" stroke="#333" stroke-width="0.6"/>
<line x1="167.30" y1="626.97" x2="168.70" y2="626.97" stroke="#333" stroke-width="0.6"/>
<line x1="167.30" y1="625.03" x2="168.70" y2="625.03" stroke="#333" stroke-width="0.6"/>
<line x1="167.30" y1="623.08" x2="168.70" y2="623.08" stroke="#333" stroke-width="0.6"/>
<line x1="167.30" y1="621.14" x2="168.70" y2="621.14" stroke="#333" stroke-width="0.6"/>
<line x1="167.30" y1="619.19" x2="168.70" y2="619.19" stroke="#333" stroke-width="0.6"/>
<line x1="167.30" y1="617.25" x2="168.70" y2="617.25" stroke="#333" stroke-width="0.6"/>
<line x1="167.30" y1="615.30" x2="168.70" y2="615.30" stroke="#333" stroke-width="0.6"/>
<line x1="167.30" y1="613.36" x2="168.70" y2="613.36" stroke="#333" stroke-width="0.6"/>
<line x1="167.30" y1="611.41" x2="168.70" y2="611.41" stroke="#333" stroke-width="0.6"/>
<line x1="167.30" y1="609.47" x2="168.70" y2="609.47" stroke="#333" stroke-width="0.6"/>
<line x1="167.30" y1="607.52" x2="168.70" y2="607.52" stroke="#333" stroke-width="0.6"/>
<line x1="167.30" y1="605.58" x2="168.70" y2="605.58" stroke="#333" stroke-width="0.6"/>
<line x1="167.30" y1="603.63" x2="168.70" y2="603.63" stroke="#333" stroke-width="0.6"/>
<line x1="167.30" y1="601.69" x2="168.70" y2="601.69" stroke="#333" stroke-width="0.6"/>
<line x1="167.30" y1="599.74" x2="168.70" y2="599.74" stroke="#333" stroke-width="0.6"/>
<line x1="171.42" y1="636.70" x2="171.42" y2="638.10" stroke="#333" stroke-width="0.6"/>
<line x1="174.15" y1="636.70" x2="174.15" y2="638.10" stroke="#333" stroke-width="0.6"/>
<line x1="176.88" y1="636.70" x2="176.88" y2="638.10" stroke="#333" stroke-width="0.6"/>
<line x1="179.60" y1="636.70" x2="179.60" y2="638.10" stroke="#333" stroke-width="0.6"/>
<line x1="182.32" y1="636.70" x2="182.32" y2="638.10" stroke="#333" stroke-width="0.6"/>
<line x1="185.05" y1="636.70" x2="185.05" y2="638.10" stroke="#333" stroke-width="0.6"/>
<line x1="187.77" y1="636.70" x2="187.77" y2="638.10" stroke="#333" stroke-width="0.6"/>
<line x1="190.50" y1="636.70" x2="190.50" y2="638.10" stroke="#333" stroke-width="0.6"/>
<line x1="193.22" y1="636.70" x2="193.22" y2="638.10" stroke="#333" stroke-width="0.6"/>
<line x1="195.95" y1="636.70" x2="195.95" y2="638.10" stroke="#333" stroke-width="0.6"/>
<line x1="198.67" y1="636.70" x2="198.67" y2="638.10" stroke="#333" stroke-width="0.6"/>
<line x1="201.40" y1="636.70" x2="201.40" y2="638.10" stroke="#333" stroke-width="0.6"/>
<line x1="204.12" y1="636.70" x2="204.12" y2="638.10" stroke="#333" stroke-width="0.6"/>
<line x1="206.85" y1="636.70" x2="206.85" y2="638.10" stroke="#333" stroke-width="0.6"/>
<line x1="209.57" y1="636.70" x2="209.57" y2="638.10" stroke="#333" stroke-width="0.6"/>
<line x1="212.30" y1="636.70" x2="212.30" y2="638.10" stroke="#333" stroke-width="0.6"/>
<line x1="215.02" y1="636.70" x2="215.02" y2="638.10" stroke="#333" stroke-width="0.6"/>
<line x1="217.75" y1="636.70" x2="217.75" y2="638.10" stroke="#333" stroke-width="0.6"/>
<line x1="220.47" y1="636.70" x2="220.47" y2="638.10" stroke="#333" stroke-width="0.6"/>
<text x="169.50" y="643.30" font-size="4.6" text-anchor="middle" font-weight="normal" fill="#111">10<tspan dy="-1.6" font-size="3.2">0</tspan></text>
<text x="183.12" y="643.30" font-size="4.6" text-anchor="middle" font-weight="normal" fill="#111">10<tspan dy="-1.6" font-size="3.2">1</tspan></text>
<text x="196.75" y="643.30" font-size="4.6" text-anchor="middle" font-weight="normal" fill="#111">10<tspan dy="-1.6" font-size="3.2">2</tspan></text>
<text x="210.38" y="643.30" font-size="4.6" text-anchor="middle" font-weight="normal" fill="#111">10<tspan dy="-1.6" font-size="3.2">3</tspan></text>
<text x="224.00" y="643.30" font-size="4.6" text-anchor="middle" font-weight="normal" fill="#111">10<tspan dy="-1.6" font-size="3.2">4</tspan></text>
<text x="165.70" y="598.60" font-size="4.6" text-anchor="middle" font-weight="normal" fill="#111" transform="rotate(-90 165.70 598.60)">10<tspan dy="-1.6" font-size="3.2">4</tspan></text>
<text x="165.70" y="634.90" font-size="4.6" text-anchor="middle" font-weight="normal" fill="#111" transform="rotate(-90 165.70 634.90)">10<tspan dy="-1.6" font-size="3.2">0</tspan></text>
<text x="219.90" y="610.50" font-size="9.2" text-anchor="end" font-weight="normal" fill="#222">13.4%</text>
<line x1="7.60" y1="537.50" x2="7.60" y2="613.00" stroke="#111" stroke-width="1.3"/>
<path d="M4.3 541.5 L7.6 535.3 L10.9 541.5" fill="none" stroke="#111" stroke-width="1.2"/>
<text x="11.30" y="630.00" font-size="10.0" text-anchor="middle" font-weight="bold" fill="#111" stroke="#111" stroke-width="0.25" transform="rotate(-90 11.30 630.00)">IFN-&#947;</text>
<text x="15.80" y="659.30" font-size="11" text-anchor="start" font-weight="bold" fill="#111" stroke="#111" stroke-width="0.25">CD4<tspan dy="-4" font-size="8">+</tspan></text>
<line x1="48.00" y1="655.80" x2="290.00" y2="655.80" stroke="#111" stroke-width="1.3"/>
<path d="M285.0 652.5 L291.5 655.8 L285.0 659.1" fill="none" stroke="#111" stroke-width="1.2"/>
<text x="323.20" y="485.90" font-size="13.8" text-anchor="start" font-weight="bold" fill="#111" stroke="#111" stroke-width="0.25">G</text>
<line x1="358.60" y1="492.70" x2="358.60" y2="682.10" stroke="#444" stroke-width="1.1"/>
<line x1="358.60" y1="682.10" x2="516.00" y2="682.10" stroke="#222" stroke-width="1.3"/>
<line x1="356.10" y1="682.10" x2="358.60" y2="682.10" stroke="#444" stroke-width="0.9"/>
<text x="356.30" y="684.90" font-size="7.7" text-anchor="end" font-weight="bold" fill="#111" stroke="#111" stroke-width="0.25">0.0</text>
<line x1="356.10" y1="650.53" x2="358.60" y2="650.53" stroke="#444" stroke-width="0.9"/>
<text x="356.30" y="653.33" font-size="7.7" text-anchor="end" font-weight="bold" fill="#111" stroke="#111" stroke-width="0.25">2.5</text>
<line x1="356.10" y1="618.97" x2="358.60" y2="618.97" stroke="#444" stroke-width="0.9"/>
<text x="356.30" y="621.77" font-size="7.7" text-anchor="end" font-weight="bold" fill="#111" stroke="#111" stroke-width="0.25">5.0</text>
<line x1="356.10" y1="587.40" x2="358.60" y2="587.40" stroke="#444" stroke-width="0.9"/>
<text x="356.30" y="590.20" font-size="7.7" text-anchor="end" font-weight="bold" fill="#111" stroke="#111" stroke-width="0.25">7.5</text>
<line x1="356.10" y1="555.83" x2="358.60" y2="555.83" stroke="#444" stroke-width="0.9"/>
<text x="356.30" y="558.63" font-size="7.7" text-anchor="end" font-weight="bold" fill="#111" stroke="#111" stroke-width="0.25">10.0</text>
<line x1="356.10" y1="524.27" x2="358.60" y2="524.27" stroke="#444" stroke-width="0.9"/>
<text x="356.30" y="527.07" font-size="7.7" text-anchor="end" font-weight="bold" fill="#111" stroke="#111" stroke-width="0.25">12.5</text>
<line x1="356.10" y1="492.70" x2="358.60" y2="492.70" stroke="#444" stroke-width="0.9"/>
<text x="356.30" y="495.50" font-size="7.7" text-anchor="end" font-weight="bold" fill="#111" stroke="#111" stroke-width="0.25">15.0</text>
<rect x="366.00" y="679.83" width="15.00" height="2.27" fill="#151515"/>
<line x1="395.35" y1="679.83" x2="395.35" y2="677.68" stroke="#333" stroke-width="0.9"/>
<line x1="391.60" y1="677.68" x2="399.10" y2="677.68" stroke="#333" stroke-width="1.1"/>
<rect x="387.85" y="679.83" width="15.00" height="2.27" fill="#151515"/>
<rect x="409.70" y="681.34" width="15.00" height="0.76" fill="#151515"/>
<line x1="439.05" y1="678.31" x2="439.05" y2="675.91" stroke="#333" stroke-width="0.9"/>
<line x1="435.30" y1="675.91" x2="442.80" y2="675.91" stroke="#333" stroke-width="1.1"/>
<rect x="431.55" y="678.31" width="15.00" height="3.79" fill="#151515"/>
<line x1="460.90" y1="672.50" x2="460.90" y2="663.41" stroke="#333" stroke-width="0.9"/>
<line x1="457.15" y1="663.41" x2="464.65" y2="663.41" stroke="#333" stroke-width="1.1"/>
<rect x="453.40" y="672.50" width="15.00" height="9.60" fill="#151515"/>
<line x1="482.75" y1="594.34" x2="482.75" y2="569.22" stroke="#333" stroke-width="0.9"/>
<line x1="479.00" y1="569.22" x2="486.50" y2="569.22" stroke="#333" stroke-width="1.1"/>
<rect x="475.25" y="594.34" width="15.00" height="87.76" fill="#151515"/>
<line x1="504.60" y1="516.06" x2="504.60" y2="513.53" stroke="#333" stroke-width="0.9"/>
<line x1="500.85" y1="513.53" x2="508.35" y2="513.53" stroke="#333" stroke-width="1.1"/>
<rect x="497.10" y="516.06" width="15.00" height="166.04" fill="#151515"/>
<line x1="472.00" y1="506.90" x2="507.70" y2="506.90" stroke="#222" stroke-width="1.2"/>
<path d="M492.30 501.24L492.30 503.97M491.12 501.92L493.48 503.28M491.12 503.28L493.48 501.92" stroke="#111" stroke-width="0.78" fill="none"/>
<circle cx="492.30" cy="502.60" r="0.97" fill="#111"/>
<text x="376.11" y="684.00" font-size="7.9" text-anchor="end" font-weight="bold" fill="#111" stroke="#111" stroke-width="0.25" transform="rotate(-90 376.11 684.00)">Medium</text>
<text x="397.96" y="684.00" font-size="7.9" text-anchor="end" font-weight="bold" fill="#111" stroke="#111" stroke-width="0.25" transform="rotate(-90 397.96 684.00)">IL-12</text>
<text x="419.81" y="684.00" font-size="7.9" text-anchor="end" font-weight="bold" fill="#111" stroke="#111" stroke-width="0.25" transform="rotate(-90 419.81 684.00)">IL-18</text>
<text x="441.66" y="684.00" font-size="7.9" text-anchor="end" font-weight="bold" fill="#111" stroke="#111" stroke-width="0.25" transform="rotate(-90 441.66 684.00)">IL-36&#946;</text>
<text x="463.51" y="684.00" font-size="7.9" text-anchor="end" font-weight="bold" fill="#111" stroke="#111" stroke-width="0.25" transform="rotate(-90 463.51 684.00)">IL-18+IL-36&#946;</text>
<text x="485.36" y="684.00" font-size="7.9" text-anchor="end" font-weight="bold" fill="#111" stroke="#111" stroke-width="0.25" transform="rotate(-90 485.36 684.00)">IL-12+IL-18</text>
<text x="507.21" y="684.00" font-size="7.9" text-anchor="end" font-weight="bold" fill="#111" stroke="#111" stroke-width="0.25" transform="rotate(-90 507.21 684.00)">IL-12+IL-36&#946;</text>
<text x="334.00" y="583.00" font-size="7.8" text-anchor="middle" font-weight="bold" fill="#111" stroke="#111" stroke-width="0.25" transform="rotate(-90 334.00 583.00)">% IFN-&#947; positive CD4<tspan dy="-2.5" font-size="5">+</tspan><tspan dy="2.5"> T cells</tspan></text>
</svg>
</body></html>
